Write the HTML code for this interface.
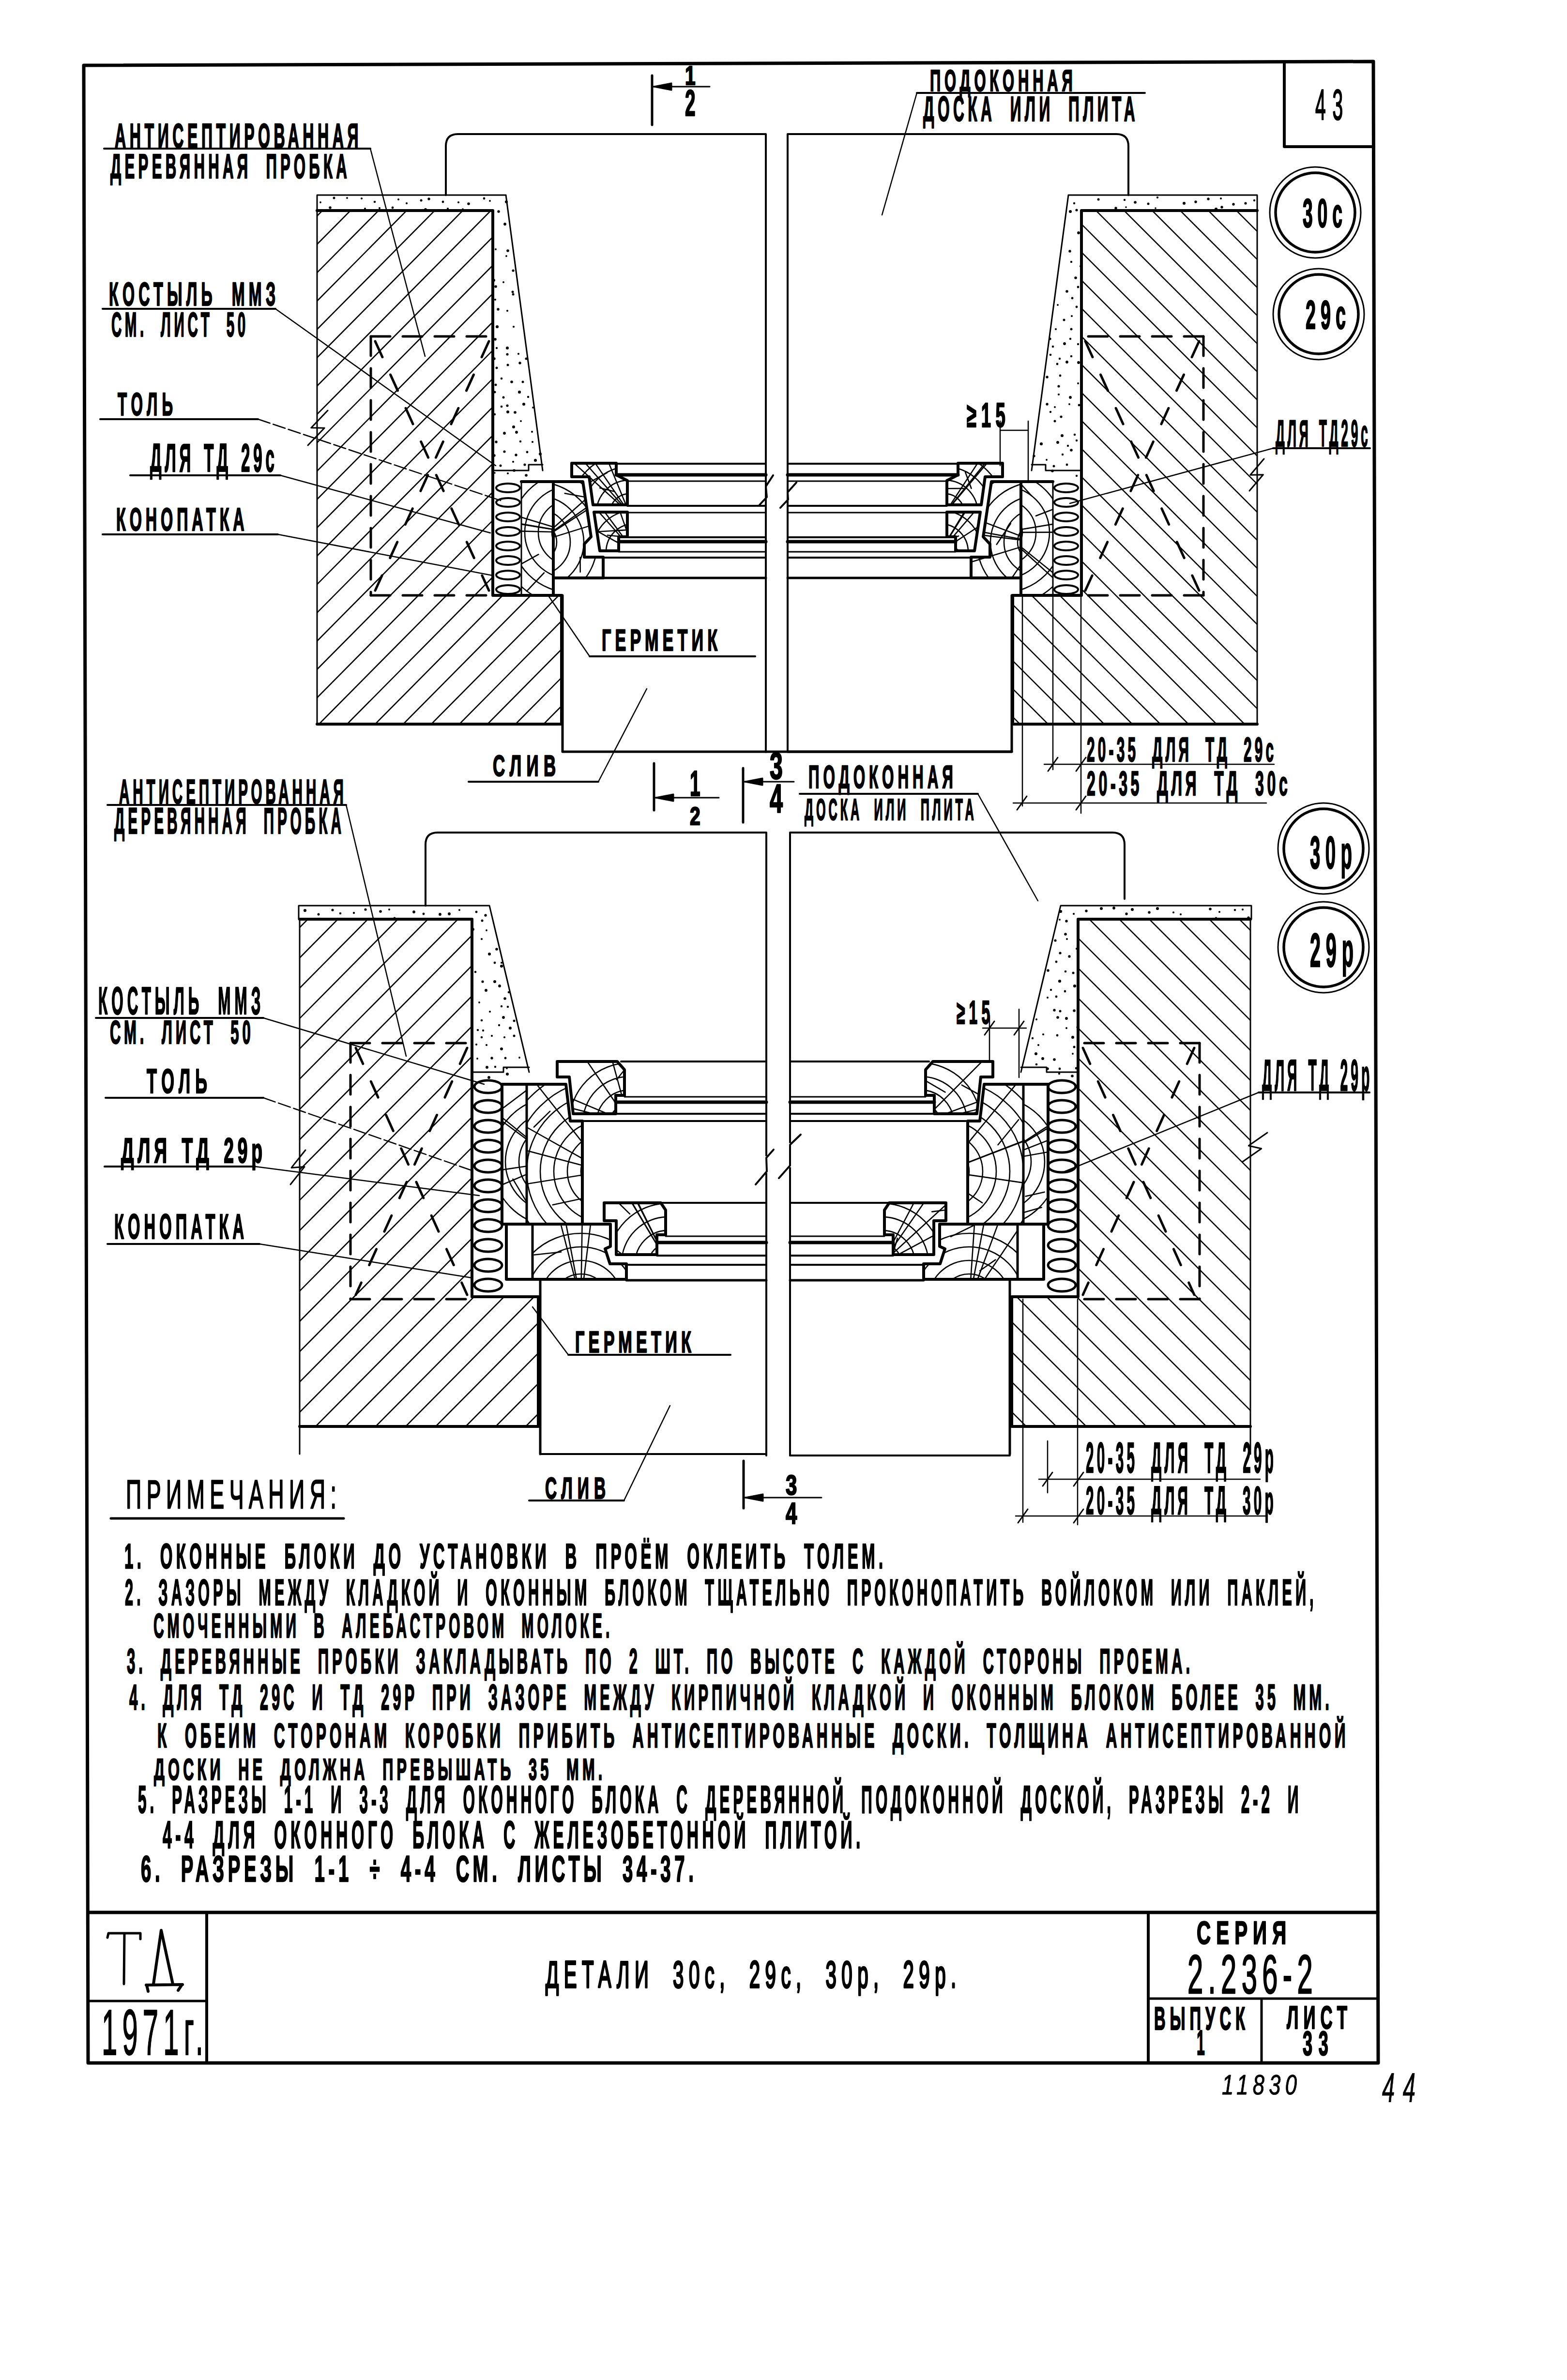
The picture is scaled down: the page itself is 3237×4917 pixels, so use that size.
<!DOCTYPE html>
<html><head><meta charset="utf-8"><style>
html,body{margin:0;padding:0;background:#fff;}
svg{display:block;}
text{fill:#000;}
</style></head><body>
<svg width="3237" height="4917" viewBox="0 0 3237 4917">
<g stroke="#000" fill="none" stroke-linecap="round" stroke-linejoin="round">
<polygon points="173.0,135.0 2837.0,127.0 2847.0,4262.0 182.0,4262.0" stroke-width="7" fill="none" />
<line x1="182.0" y1="3951.0" x2="2846.0" y2="3951.0" stroke-width="7"/>
<line x1="427.0" y1="3951.0" x2="427.0" y2="4262.0" stroke-width="6"/>
<line x1="182.0" y1="4134.0" x2="427.0" y2="4134.0" stroke-width="5"/>
<line x1="2372.0" y1="3951.0" x2="2372.0" y2="4262.0" stroke-width="6"/>
<line x1="2372.0" y1="4129.0" x2="2846.0" y2="4129.0" stroke-width="5"/>
<line x1="2606.0" y1="4132.0" x2="2606.0" y2="4262.0" stroke-width="5"/>
<polyline points="2653.0,130.0 2653.0,303.0 2838.0,303.0" stroke-width="6" fill="none" />
<circle cx="2717" cy="439" r="94" stroke-width="3"/>
<circle cx="2717" cy="439" r="82" stroke-width="5.5"/>
<circle cx="2724" cy="649" r="94" stroke-width="3"/>
<circle cx="2724" cy="649" r="82" stroke-width="5.5"/>
<circle cx="2734" cy="1753" r="94" stroke-width="3"/>
<circle cx="2734" cy="1753" r="82" stroke-width="5.5"/>
<circle cx="2734" cy="1957" r="94" stroke-width="3"/>
<circle cx="2734" cy="1957" r="82" stroke-width="5.5"/>
<circle cx="662" cy="418" r="1.9" fill="#000" stroke="none"/>
<circle cx="690" cy="409" r="2.5" fill="#000" stroke="none"/>
<circle cx="717" cy="409" r="1.9" fill="#000" stroke="none"/>
<circle cx="747" cy="410" r="2.1" fill="#000" stroke="none"/>
<circle cx="774" cy="417" r="2.3" fill="#000" stroke="none"/>
<circle cx="823" cy="412" r="2.0" fill="#000" stroke="none"/>
<circle cx="840" cy="420" r="2.1" fill="#000" stroke="none"/>
<circle cx="870" cy="414" r="2.5" fill="#000" stroke="none"/>
<circle cx="886" cy="411" r="2.7" fill="#000" stroke="none"/>
<circle cx="915" cy="417" r="2.4" fill="#000" stroke="none"/>
<circle cx="947" cy="418" r="2.1" fill="#000" stroke="none"/>
<circle cx="968" cy="421" r="2.8" fill="#000" stroke="none"/>
<circle cx="1000" cy="410" r="2.4" fill="#000" stroke="none"/>
<circle cx="1012" cy="415" r="1.9" fill="#000" stroke="none"/>
<circle cx="1046" cy="417" r="3.0" fill="#000" stroke="none"/>
<circle cx="682" cy="429" r="2.7" fill="#000" stroke="none"/>
<circle cx="754" cy="431" r="2.0" fill="#000" stroke="none"/>
<circle cx="784" cy="430" r="2.1" fill="#000" stroke="none"/>
<circle cx="811" cy="429" r="2.4" fill="#000" stroke="none"/>
<circle cx="879" cy="433" r="3.0" fill="#000" stroke="none"/>
<circle cx="925" cy="431" r="2.1" fill="#000" stroke="none"/>
<circle cx="956" cy="432" r="1.8" fill="#000" stroke="none"/>
<circle cx="1030" cy="437" r="2.7" fill="#000" stroke="none"/>
<circle cx="1043" cy="463" r="2.9" fill="#000" stroke="none"/>
<circle cx="1024" cy="515" r="1.9" fill="#000" stroke="none"/>
<circle cx="1049" cy="518" r="2.8" fill="#000" stroke="none"/>
<circle cx="1046" cy="529" r="1.9" fill="#000" stroke="none"/>
<circle cx="1060" cy="559" r="2.6" fill="#000" stroke="none"/>
<circle cx="1020" cy="579" r="3.0" fill="#000" stroke="none"/>
<circle cx="1040" cy="583" r="2.0" fill="#000" stroke="none"/>
<circle cx="1024" cy="592" r="2.8" fill="#000" stroke="none"/>
<circle cx="1059" cy="603" r="2.5" fill="#000" stroke="none"/>
<circle cx="1023" cy="619" r="2.1" fill="#000" stroke="none"/>
<circle cx="1060" cy="608" r="2.5" fill="#000" stroke="none"/>
<circle cx="1029" cy="639" r="2.7" fill="#000" stroke="none"/>
<circle cx="1048" cy="642" r="2.0" fill="#000" stroke="none"/>
<circle cx="1027" cy="675" r="3.1" fill="#000" stroke="none"/>
<circle cx="1061" cy="675" r="2.1" fill="#000" stroke="none"/>
<circle cx="1023" cy="701" r="2.8" fill="#000" stroke="none"/>
<circle cx="1026" cy="719" r="2.2" fill="#000" stroke="none"/>
<circle cx="1048" cy="719" r="3.0" fill="#000" stroke="none"/>
<circle cx="1021" cy="741" r="2.7" fill="#000" stroke="none"/>
<circle cx="1048" cy="732" r="2.6" fill="#000" stroke="none"/>
<circle cx="1071" cy="731" r="2.1" fill="#000" stroke="none"/>
<circle cx="1087" cy="741" r="2.6" fill="#000" stroke="none"/>
<circle cx="1026" cy="760" r="2.5" fill="#000" stroke="none"/>
<circle cx="1049" cy="754" r="2.5" fill="#000" stroke="none"/>
<circle cx="1074" cy="750" r="2.7" fill="#000" stroke="none"/>
<circle cx="1036" cy="782" r="2.3" fill="#000" stroke="none"/>
<circle cx="1024" cy="795" r="2.5" fill="#000" stroke="none"/>
<circle cx="1057" cy="789" r="2.8" fill="#000" stroke="none"/>
<circle cx="1080" cy="789" r="2.5" fill="#000" stroke="none"/>
<circle cx="1022" cy="810" r="2.5" fill="#000" stroke="none"/>
<circle cx="1040" cy="821" r="2.5" fill="#000" stroke="none"/>
<circle cx="1073" cy="810" r="3.1" fill="#000" stroke="none"/>
<circle cx="1091" cy="820" r="2.2" fill="#000" stroke="none"/>
<circle cx="1036" cy="840" r="2.3" fill="#000" stroke="none"/>
<circle cx="1048" cy="838" r="2.6" fill="#000" stroke="none"/>
<circle cx="1082" cy="835" r="3.0" fill="#000" stroke="none"/>
<circle cx="1101" cy="842" r="1.9" fill="#000" stroke="none"/>
<circle cx="1022" cy="856" r="2.2" fill="#000" stroke="none"/>
<circle cx="1049" cy="851" r="3.0" fill="#000" stroke="none"/>
<circle cx="1064" cy="852" r="2.8" fill="#000" stroke="none"/>
<circle cx="1061" cy="882" r="3.0" fill="#000" stroke="none"/>
<circle cx="1076" cy="870" r="1.9" fill="#000" stroke="none"/>
<circle cx="1042" cy="895" r="2.9" fill="#000" stroke="none"/>
<circle cx="1067" cy="893" r="2.9" fill="#000" stroke="none"/>
<circle cx="1099" cy="892" r="2.1" fill="#000" stroke="none"/>
<circle cx="1025" cy="913" r="2.7" fill="#000" stroke="none"/>
<circle cx="1075" cy="912" r="2.2" fill="#000" stroke="none"/>
<circle cx="1100" cy="913" r="2.1" fill="#000" stroke="none"/>
<circle cx="1021" cy="941" r="2.7" fill="#000" stroke="none"/>
<circle cx="1042" cy="933" r="2.6" fill="#000" stroke="none"/>
<circle cx="1066" cy="940" r="2.7" fill="#000" stroke="none"/>
<circle cx="1089" cy="934" r="2.4" fill="#000" stroke="none"/>
<circle cx="1116" cy="938" r="3.0" fill="#000" stroke="none"/>
<circle cx="1034" cy="962" r="2.5" fill="#000" stroke="none"/>
<circle cx="1060" cy="954" r="2.1" fill="#000" stroke="none"/>
<circle cx="1084" cy="960" r="2.6" fill="#000" stroke="none"/>
<circle cx="1106" cy="951" r="3.1" fill="#000" stroke="none"/>
<circle cx="1022" cy="977" r="1.8" fill="#000" stroke="none"/>
<circle cx="1049" cy="978" r="2.1" fill="#000" stroke="none"/>
<circle cx="1062" cy="972" r="2.8" fill="#000" stroke="none"/>
<circle cx="1087" cy="982" r="2.8" fill="#000" stroke="none"/>
<polyline points="655.0,435.0 655.0,403.0 1045.0,403.0 1121.0,972.0" stroke-width="3" fill="none" />
<clipPath id="c1"><polygon points="655.0,435.0 1018.0,435.0 1018.0,1230.0 1160.0,1230.0 1160.0,1496.0 655.0,1496.0"/></clipPath>
<g clip-path="url(#c1)">
<line x1="671.0" y1="430.0" x2="-395.0" y2="1506.0" stroke-width="2.6"/>
<line x1="729.0" y1="430.0" x2="-337.0" y2="1506.0" stroke-width="2.6"/>
<line x1="787.0" y1="430.0" x2="-279.0" y2="1506.0" stroke-width="2.6"/>
<line x1="845.0" y1="430.0" x2="-221.0" y2="1506.0" stroke-width="2.6"/>
<line x1="903.0" y1="430.0" x2="-163.0" y2="1506.0" stroke-width="2.6"/>
<line x1="961.0" y1="430.0" x2="-105.0" y2="1506.0" stroke-width="2.6"/>
<line x1="1019.0" y1="430.0" x2="-47.0" y2="1506.0" stroke-width="2.6"/>
<line x1="1077.0" y1="430.0" x2="11.0" y2="1506.0" stroke-width="2.6"/>
<line x1="1135.0" y1="430.0" x2="69.0" y2="1506.0" stroke-width="2.6"/>
<line x1="1193.0" y1="430.0" x2="127.0" y2="1506.0" stroke-width="2.6"/>
<line x1="1251.0" y1="430.0" x2="185.0" y2="1506.0" stroke-width="2.6"/>
<line x1="1309.0" y1="430.0" x2="243.0" y2="1506.0" stroke-width="2.6"/>
<line x1="1367.0" y1="430.0" x2="301.0" y2="1506.0" stroke-width="2.6"/>
<line x1="1425.0" y1="430.0" x2="359.0" y2="1506.0" stroke-width="2.6"/>
<line x1="1483.0" y1="430.0" x2="417.0" y2="1506.0" stroke-width="2.6"/>
<line x1="1541.0" y1="430.0" x2="475.0" y2="1506.0" stroke-width="2.6"/>
<line x1="1599.0" y1="430.0" x2="533.0" y2="1506.0" stroke-width="2.6"/>
<line x1="1657.0" y1="430.0" x2="591.0" y2="1506.0" stroke-width="2.6"/>
<line x1="1715.0" y1="430.0" x2="649.0" y2="1506.0" stroke-width="2.6"/>
<line x1="1773.0" y1="430.0" x2="707.0" y2="1506.0" stroke-width="2.6"/>
<line x1="1831.0" y1="430.0" x2="765.0" y2="1506.0" stroke-width="2.6"/>
<line x1="1889.0" y1="430.0" x2="823.0" y2="1506.0" stroke-width="2.6"/>
<line x1="1947.0" y1="430.0" x2="881.0" y2="1506.0" stroke-width="2.6"/>
<line x1="2005.0" y1="430.0" x2="939.0" y2="1506.0" stroke-width="2.6"/>
<line x1="2063.0" y1="430.0" x2="997.0" y2="1506.0" stroke-width="2.6"/>
<line x1="2121.0" y1="430.0" x2="1055.0" y2="1506.0" stroke-width="2.6"/>
<line x1="2179.0" y1="430.0" x2="1113.0" y2="1506.0" stroke-width="2.6"/>
</g>
<polyline points="655.0,435.0 655.0,1496.0" stroke-width="3" fill="none" />
<polyline points="655.0,435.0 1018.0,435.0 1018.0,1230.0 1160.0,1230.0 1160.0,1496.0 655.0,1496.0" stroke-width="6" fill="none" />
<polyline points="1018.0,972.0 1092.0,972.0 1092.0,960.0 1121.0,960.0" stroke-width="3" fill="none" />
<line x1="766.0" y1="695.0" x2="1016.0" y2="695.0" stroke-width="5" stroke-dasharray="40,26"/>
<line x1="766.0" y1="695.0" x2="766.0" y2="1230.0" stroke-width="5" stroke-dasharray="40,26"/>
<line x1="766.0" y1="1230.0" x2="1016.0" y2="1230.0" stroke-width="5" stroke-dasharray="40,26"/>
<line x1="775.0" y1="705.0" x2="1010.0" y2="1220.0" stroke-width="5" stroke-dasharray="36,40"/>
<line x1="1010.0" y1="705.0" x2="775.0" y2="1220.0" stroke-width="5" stroke-dasharray="36,40"/>
<path d="M 921 403 L 921 302 Q 921 277 946 277 L 1582 277 L 1582 1553" stroke-width="4" fill="none" />
<polyline points="1162.0,1230.0 1162.0,1553.0 1582.0,1553.0" stroke-width="5" fill="none" />
<ellipse cx="1049.5" cy="1008.0" rx="24.5" ry="9" stroke-width="4"/>
<ellipse cx="1049.5" cy="1038.0" rx="24.5" ry="9" stroke-width="4"/>
<ellipse cx="1049.5" cy="1068.0" rx="24.5" ry="9" stroke-width="4"/>
<ellipse cx="1049.5" cy="1098.0" rx="24.5" ry="9" stroke-width="4"/>
<ellipse cx="1049.5" cy="1128.0" rx="24.5" ry="9" stroke-width="4"/>
<ellipse cx="1049.5" cy="1158.0" rx="24.5" ry="9" stroke-width="4"/>
<ellipse cx="1049.5" cy="1188.0" rx="24.5" ry="9" stroke-width="4"/>
<ellipse cx="1049.5" cy="1218.0" rx="24.5" ry="9" stroke-width="4"/>
<clipPath id="c2"><polygon points="1077.0,995.0 1143.0,995.0 1143.0,1230.0 1077.0,1230.0"/></clipPath>
<g clip-path="url(#c2)">
<circle cx="1180.0" cy="1100.0" r="40.0" stroke-width="2.6"/>
<circle cx="1180.0" cy="1100.0" r="68.0" stroke-width="2.6"/>
<circle cx="1180.0" cy="1100.0" r="96.0" stroke-width="2.6"/>
<circle cx="1180.0" cy="1100.0" r="124.0" stroke-width="2.6"/>
<circle cx="1180.0" cy="1100.0" r="152.0" stroke-width="2.6"/>
<line x1="1180.0" y1="1100.0" x2="785.2" y2="1035.9" stroke-width="2.6"/>
<line x1="1180.0" y1="1100.0" x2="780.1" y2="1089.8" stroke-width="2.6"/>
<line x1="1180.0" y1="1100.0" x2="797.4" y2="983.3" stroke-width="2.6"/>
<line x1="1180.0" y1="1100.0" x2="785.7" y2="1032.7" stroke-width="2.6"/>
<line x1="1112.4" y1="1145.4" x2="1067.6" y2="1170.2" stroke-width="2.6"/>
<line x1="1123.9" y1="1183.5" x2="1088.0" y2="1221.3" stroke-width="2.6"/>
</g>
<clipPath id="c3"><polygon points="1143.0,995.0 1204.0,995.0 1221.0,1109.0 1207.0,1124.0 1207.0,1151.0 1246.0,1151.0 1246.0,1194.0 1143.0,1194.0"/></clipPath>
<g clip-path="url(#c3)">
<circle cx="1110.0" cy="1120.0" r="40.0" stroke-width="2.6"/>
<circle cx="1110.0" cy="1120.0" r="68.0" stroke-width="2.6"/>
<circle cx="1110.0" cy="1120.0" r="96.0" stroke-width="2.6"/>
<circle cx="1110.0" cy="1120.0" r="124.0" stroke-width="2.6"/>
<circle cx="1110.0" cy="1120.0" r="152.0" stroke-width="2.6"/>
<line x1="1110.0" y1="1120.0" x2="1445.5" y2="902.2" stroke-width="2.6"/>
<line x1="1110.0" y1="1120.0" x2="1437.4" y2="890.2" stroke-width="2.6"/>
<line x1="1110.0" y1="1120.0" x2="1409.2" y2="854.5" stroke-width="2.6"/>
<line x1="1110.0" y1="1120.0" x2="1492.0" y2="1001.3" stroke-width="2.6"/>
<line x1="1166.7" y1="1019.2" x2="1215.5" y2="1028.3" stroke-width="2.6"/>
<line x1="1198.5" y1="1151.6" x2="1198.7" y2="1181.8" stroke-width="2.6"/>
</g>
<polyline points="1077.0,995.0 1204.0,995.0 1221.0,1109.0 1207.0,1124.0 1207.0,1151.0 1246.0,1151.0 1246.0,1194.0 1143.0,1194.0" stroke-width="6" fill="none" />
<polyline points="1143.0,995.0 1143.0,1230.0" stroke-width="6" fill="none" />
<polyline points="1077.0,995.0 1077.0,1230.0" stroke-width="3" fill="none" />
<clipPath id="c4"><polygon points="1181.0,957.0 1273.0,957.0 1273.0,981.0 1296.0,993.0 1296.0,1043.0 1225.0,1043.0 1217.0,985.0 1181.0,985.0"/></clipPath>
<g clip-path="url(#c4)">
<circle cx="1300.0" cy="1060.0" r="40.0" stroke-width="2.6"/>
<circle cx="1300.0" cy="1060.0" r="68.0" stroke-width="2.6"/>
<circle cx="1300.0" cy="1060.0" r="96.0" stroke-width="2.6"/>
<circle cx="1300.0" cy="1060.0" r="124.0" stroke-width="2.6"/>
<line x1="1300.0" y1="1060.0" x2="1148.4" y2="689.9" stroke-width="2.6"/>
<line x1="1300.0" y1="1060.0" x2="1003.2" y2="791.9" stroke-width="2.6"/>
<line x1="1300.0" y1="1060.0" x2="1035.4" y2="760.0" stroke-width="2.6"/>
<line x1="1300.0" y1="1060.0" x2="1074.3" y2="729.7" stroke-width="2.6"/>
<line x1="1254.1" y1="976.6" x2="1194.1" y2="1009.4" stroke-width="2.6"/>
<line x1="1239.1" y1="1008.1" x2="1269.4" y2="1015.4" stroke-width="2.6"/>
</g>
<polygon points="1181.0,957.0 1273.0,957.0 1273.0,981.0 1296.0,993.0 1296.0,1043.0 1225.0,1043.0 1217.0,985.0 1181.0,985.0" stroke-width="6" fill="none" />
<clipPath id="c5"><polygon points="1227.0,1058.0 1296.0,1058.0 1296.0,1109.0 1278.0,1109.0 1278.0,1138.0 1239.0,1138.0"/></clipPath>
<g clip-path="url(#c5)">
<circle cx="1310.0" cy="1140.0" r="30.0" stroke-width="2.6"/>
<circle cx="1310.0" cy="1140.0" r="58.0" stroke-width="2.6"/>
<circle cx="1310.0" cy="1140.0" r="86.0" stroke-width="2.6"/>
<circle cx="1310.0" cy="1140.0" r="114.0" stroke-width="2.6"/>
<line x1="1310.0" y1="1140.0" x2="1044.6" y2="840.7" stroke-width="2.6"/>
<line x1="1310.0" y1="1140.0" x2="1071.8" y2="818.7" stroke-width="2.6"/>
<line x1="1310.0" y1="1140.0" x2="1176.9" y2="762.8" stroke-width="2.6"/>
<line x1="1310.0" y1="1140.0" x2="961.0" y2="944.6" stroke-width="2.6"/>
<line x1="1295.1" y1="1094.9" x2="1229.3" y2="1098.7" stroke-width="2.6"/>
<line x1="1254.9" y1="1105.7" x2="1298.2" y2="1110.3" stroke-width="2.6"/>
</g>
<polygon points="1227.0,1058.0 1296.0,1058.0 1296.0,1109.0 1278.0,1109.0 1278.0,1138.0 1239.0,1138.0" stroke-width="6" fill="none" />
<line x1="1273.0" y1="958.0" x2="1582.0" y2="958.0" stroke-width="4"/>
<line x1="1273.0" y1="981.0" x2="1582.0" y2="981.0" stroke-width="7"/>
<line x1="1296.0" y1="994.0" x2="1582.0" y2="994.0" stroke-width="3"/>
<line x1="1296.0" y1="1045.0" x2="1582.0" y2="1045.0" stroke-width="4"/>
<line x1="1296.0" y1="1059.0" x2="1582.0" y2="1059.0" stroke-width="3"/>
<line x1="1296.0" y1="1110.0" x2="1582.0" y2="1110.0" stroke-width="4"/>
<line x1="1278.0" y1="1119.0" x2="1582.0" y2="1119.0" stroke-width="7"/>
<line x1="1278.0" y1="1140.0" x2="1582.0" y2="1140.0" stroke-width="3"/>
<line x1="1246.0" y1="1152.0" x2="1582.0" y2="1152.0" stroke-width="4"/>
<line x1="1246.0" y1="1194.0" x2="1582.0" y2="1194.0" stroke-width="5"/>
<circle cx="2219" cy="420" r="2.2" fill="#000" stroke="none"/>
<circle cx="2269" cy="412" r="2.5" fill="#000" stroke="none"/>
<circle cx="2323" cy="413" r="2.2" fill="#000" stroke="none"/>
<circle cx="2345" cy="418" r="2.8" fill="#000" stroke="none"/>
<circle cx="2372" cy="421" r="2.5" fill="#000" stroke="none"/>
<circle cx="2391" cy="408" r="2.1" fill="#000" stroke="none"/>
<circle cx="2446" cy="420" r="3.0" fill="#000" stroke="none"/>
<circle cx="2470" cy="417" r="2.7" fill="#000" stroke="none"/>
<circle cx="2496" cy="411" r="2.7" fill="#000" stroke="none"/>
<circle cx="2522" cy="410" r="2.1" fill="#000" stroke="none"/>
<circle cx="2548" cy="422" r="2.7" fill="#000" stroke="none"/>
<circle cx="2573" cy="420" r="2.6" fill="#000" stroke="none"/>
<circle cx="2591" cy="414" r="2.2" fill="#000" stroke="none"/>
<circle cx="2211" cy="437" r="3.0" fill="#000" stroke="none"/>
<circle cx="2224" cy="434" r="2.6" fill="#000" stroke="none"/>
<circle cx="2305" cy="430" r="2.7" fill="#000" stroke="none"/>
<circle cx="2326" cy="428" r="1.8" fill="#000" stroke="none"/>
<circle cx="2387" cy="430" r="1.8" fill="#000" stroke="none"/>
<circle cx="2512" cy="432" r="3.1" fill="#000" stroke="none"/>
<circle cx="2524" cy="428" r="2.7" fill="#000" stroke="none"/>
<circle cx="2228" cy="481" r="2.9" fill="#000" stroke="none"/>
<circle cx="2210" cy="519" r="2.7" fill="#000" stroke="none"/>
<circle cx="2213" cy="541" r="2.2" fill="#000" stroke="none"/>
<circle cx="2232" cy="550" r="2.1" fill="#000" stroke="none"/>
<circle cx="2222" cy="574" r="2.8" fill="#000" stroke="none"/>
<circle cx="2204" cy="602" r="2.8" fill="#000" stroke="none"/>
<circle cx="2227" cy="593" r="2.4" fill="#000" stroke="none"/>
<circle cx="2215" cy="616" r="2.4" fill="#000" stroke="none"/>
<circle cx="2185" cy="630" r="1.9" fill="#000" stroke="none"/>
<circle cx="2224" cy="634" r="2.4" fill="#000" stroke="none"/>
<circle cx="2198" cy="661" r="2.5" fill="#000" stroke="none"/>
<circle cx="2214" cy="653" r="2.0" fill="#000" stroke="none"/>
<circle cx="2181" cy="680" r="2.0" fill="#000" stroke="none"/>
<circle cx="2213" cy="680" r="2.5" fill="#000" stroke="none"/>
<circle cx="2169" cy="700" r="2.6" fill="#000" stroke="none"/>
<circle cx="2211" cy="700" r="2.2" fill="#000" stroke="none"/>
<circle cx="2175" cy="716" r="2.3" fill="#000" stroke="none"/>
<circle cx="2199" cy="710" r="2.9" fill="#000" stroke="none"/>
<circle cx="2227" cy="711" r="2.2" fill="#000" stroke="none"/>
<circle cx="2170" cy="733" r="2.3" fill="#000" stroke="none"/>
<circle cx="2189" cy="741" r="2.2" fill="#000" stroke="none"/>
<circle cx="2213" cy="736" r="2.3" fill="#000" stroke="none"/>
<circle cx="2184" cy="752" r="2.4" fill="#000" stroke="none"/>
<circle cx="2204" cy="748" r="2.9" fill="#000" stroke="none"/>
<circle cx="2228" cy="749" r="2.9" fill="#000" stroke="none"/>
<circle cx="2163" cy="779" r="2.7" fill="#000" stroke="none"/>
<circle cx="2190" cy="776" r="2.4" fill="#000" stroke="none"/>
<circle cx="2187" cy="798" r="2.6" fill="#000" stroke="none"/>
<circle cx="2227" cy="792" r="2.0" fill="#000" stroke="none"/>
<circle cx="2187" cy="815" r="2.1" fill="#000" stroke="none"/>
<circle cx="2211" cy="821" r="2.9" fill="#000" stroke="none"/>
<circle cx="2163" cy="835" r="2.7" fill="#000" stroke="none"/>
<circle cx="2179" cy="841" r="1.9" fill="#000" stroke="none"/>
<circle cx="2209" cy="835" r="1.9" fill="#000" stroke="none"/>
<circle cx="2229" cy="837" r="2.4" fill="#000" stroke="none"/>
<circle cx="2170" cy="851" r="2.2" fill="#000" stroke="none"/>
<circle cx="2192" cy="861" r="2.6" fill="#000" stroke="none"/>
<circle cx="2179" cy="870" r="2.5" fill="#000" stroke="none"/>
<circle cx="2194" cy="900" r="3.0" fill="#000" stroke="none"/>
<circle cx="2220" cy="898" r="2.3" fill="#000" stroke="none"/>
<circle cx="2151" cy="917" r="3.1" fill="#000" stroke="none"/>
<circle cx="2185" cy="914" r="2.9" fill="#000" stroke="none"/>
<circle cx="2206" cy="921" r="2.2" fill="#000" stroke="none"/>
<circle cx="2224" cy="910" r="2.2" fill="#000" stroke="none"/>
<circle cx="2136" cy="942" r="2.6" fill="#000" stroke="none"/>
<circle cx="2195" cy="939" r="2.2" fill="#000" stroke="none"/>
<circle cx="2213" cy="930" r="2.8" fill="#000" stroke="none"/>
<circle cx="2162" cy="950" r="1.9" fill="#000" stroke="none"/>
<circle cx="2177" cy="963" r="2.5" fill="#000" stroke="none"/>
<circle cx="2204" cy="960" r="2.4" fill="#000" stroke="none"/>
<circle cx="2174" cy="973" r="2.8" fill="#000" stroke="none"/>
<circle cx="2224" cy="983" r="2.2" fill="#000" stroke="none"/>
<polyline points="2597.0,435.0 2597.0,403.0 2207.0,403.0 2131.0,972.0" stroke-width="3" fill="none" />
<clipPath id="c6"><polygon points="2597.0,435.0 2234.0,435.0 2234.0,1230.0 2092.0,1230.0 2092.0,1496.0 2597.0,1496.0"/></clipPath>
<g clip-path="url(#c6)">
<line x1="1036.0" y1="425.0" x2="2117.0" y2="1506.0" stroke-width="2.6"/>
<line x1="1094.0" y1="425.0" x2="2175.0" y2="1506.0" stroke-width="2.6"/>
<line x1="1152.0" y1="425.0" x2="2233.0" y2="1506.0" stroke-width="2.6"/>
<line x1="1210.0" y1="425.0" x2="2291.0" y2="1506.0" stroke-width="2.6"/>
<line x1="1268.0" y1="425.0" x2="2349.0" y2="1506.0" stroke-width="2.6"/>
<line x1="1326.0" y1="425.0" x2="2407.0" y2="1506.0" stroke-width="2.6"/>
<line x1="1384.0" y1="425.0" x2="2465.0" y2="1506.0" stroke-width="2.6"/>
<line x1="1442.0" y1="425.0" x2="2523.0" y2="1506.0" stroke-width="2.6"/>
<line x1="1500.0" y1="425.0" x2="2581.0" y2="1506.0" stroke-width="2.6"/>
<line x1="1558.0" y1="425.0" x2="2639.0" y2="1506.0" stroke-width="2.6"/>
<line x1="1616.0" y1="425.0" x2="2697.0" y2="1506.0" stroke-width="2.6"/>
<line x1="1674.0" y1="425.0" x2="2755.0" y2="1506.0" stroke-width="2.6"/>
<line x1="1732.0" y1="425.0" x2="2813.0" y2="1506.0" stroke-width="2.6"/>
<line x1="1790.0" y1="425.0" x2="2871.0" y2="1506.0" stroke-width="2.6"/>
<line x1="1848.0" y1="425.0" x2="2929.0" y2="1506.0" stroke-width="2.6"/>
<line x1="1906.0" y1="425.0" x2="2987.0" y2="1506.0" stroke-width="2.6"/>
<line x1="1964.0" y1="425.0" x2="3045.0" y2="1506.0" stroke-width="2.6"/>
<line x1="2022.0" y1="425.0" x2="3103.0" y2="1506.0" stroke-width="2.6"/>
<line x1="2080.0" y1="425.0" x2="3161.0" y2="1506.0" stroke-width="2.6"/>
<line x1="2138.0" y1="425.0" x2="3219.0" y2="1506.0" stroke-width="2.6"/>
<line x1="2196.0" y1="425.0" x2="3277.0" y2="1506.0" stroke-width="2.6"/>
<line x1="2254.0" y1="425.0" x2="3335.0" y2="1506.0" stroke-width="2.6"/>
<line x1="2312.0" y1="425.0" x2="3393.0" y2="1506.0" stroke-width="2.6"/>
<line x1="2370.0" y1="425.0" x2="3451.0" y2="1506.0" stroke-width="2.6"/>
<line x1="2428.0" y1="425.0" x2="3509.0" y2="1506.0" stroke-width="2.6"/>
<line x1="2486.0" y1="425.0" x2="3567.0" y2="1506.0" stroke-width="2.6"/>
<line x1="2544.0" y1="425.0" x2="3625.0" y2="1506.0" stroke-width="2.6"/>
</g>
<polyline points="2597.0,435.0 2597.0,1496.0" stroke-width="3" fill="none" />
<polyline points="2597.0,435.0 2234.0,435.0 2234.0,1230.0 2092.0,1230.0 2092.0,1496.0 2597.0,1496.0" stroke-width="6" fill="none" />
<polyline points="2234.0,972.0 2160.0,972.0 2160.0,960.0 2131.0,960.0" stroke-width="3" fill="none" />
<line x1="2486.0" y1="695.0" x2="2236.0" y2="695.0" stroke-width="5" stroke-dasharray="40,26"/>
<line x1="2486.0" y1="695.0" x2="2486.0" y2="1230.0" stroke-width="5" stroke-dasharray="40,26"/>
<line x1="2486.0" y1="1230.0" x2="2236.0" y2="1230.0" stroke-width="5" stroke-dasharray="40,26"/>
<line x1="2477.0" y1="705.0" x2="2242.0" y2="1220.0" stroke-width="5" stroke-dasharray="36,40"/>
<line x1="2242.0" y1="705.0" x2="2477.0" y2="1220.0" stroke-width="5" stroke-dasharray="36,40"/>
<path d="M 2331 403 L 2331 302 Q 2331 277 2306 277 L 1627 277 L 1627 1553" stroke-width="4" fill="none" />
<polyline points="2090.0,1230.0 2090.0,1553.0 1582.0,1553.0" stroke-width="5" fill="none" />
<polyline points="1627.0,1553.0 2090.0,1553.0" stroke-width="5" fill="none" />
<ellipse cx="2202.5" cy="1008.0" rx="24.5" ry="9" stroke-width="4"/>
<ellipse cx="2202.5" cy="1038.0" rx="24.5" ry="9" stroke-width="4"/>
<ellipse cx="2202.5" cy="1068.0" rx="24.5" ry="9" stroke-width="4"/>
<ellipse cx="2202.5" cy="1098.0" rx="24.5" ry="9" stroke-width="4"/>
<ellipse cx="2202.5" cy="1128.0" rx="24.5" ry="9" stroke-width="4"/>
<ellipse cx="2202.5" cy="1158.0" rx="24.5" ry="9" stroke-width="4"/>
<ellipse cx="2202.5" cy="1188.0" rx="24.5" ry="9" stroke-width="4"/>
<ellipse cx="2202.5" cy="1218.0" rx="24.5" ry="9" stroke-width="4"/>
<clipPath id="c7"><polygon points="2175.0,995.0 2109.0,995.0 2109.0,1230.0 2175.0,1230.0"/></clipPath>
<g clip-path="url(#c7)">
<circle cx="2072.0" cy="1100.0" r="40.0" stroke-width="2.6"/>
<circle cx="2072.0" cy="1100.0" r="68.0" stroke-width="2.6"/>
<circle cx="2072.0" cy="1100.0" r="96.0" stroke-width="2.6"/>
<circle cx="2072.0" cy="1100.0" r="124.0" stroke-width="2.6"/>
<circle cx="2072.0" cy="1100.0" r="152.0" stroke-width="2.6"/>
<line x1="2072.0" y1="1100.0" x2="2383.2" y2="1351.2" stroke-width="2.6"/>
<line x1="2072.0" y1="1100.0" x2="2472.0" y2="1098.4" stroke-width="2.6"/>
<line x1="2072.0" y1="1100.0" x2="2466.6" y2="1034.2" stroke-width="2.6"/>
<line x1="2072.0" y1="1100.0" x2="2368.0" y2="1369.0" stroke-width="2.6"/>
<line x1="2174.6" y1="1052.5" x2="2140.0" y2="1065.8" stroke-width="2.6"/>
<line x1="2096.6" y1="986.5" x2="2130.5" y2="1023.8" stroke-width="2.6"/>
</g>
<clipPath id="c8"><polygon points="2109.0,995.0 2048.0,995.0 2031.0,1109.0 2045.0,1124.0 2045.0,1151.0 2006.0,1151.0 2006.0,1194.0 2109.0,1194.0"/></clipPath>
<g clip-path="url(#c8)">
<circle cx="2142.0" cy="1120.0" r="40.0" stroke-width="2.6"/>
<circle cx="2142.0" cy="1120.0" r="68.0" stroke-width="2.6"/>
<circle cx="2142.0" cy="1120.0" r="96.0" stroke-width="2.6"/>
<circle cx="2142.0" cy="1120.0" r="124.0" stroke-width="2.6"/>
<circle cx="2142.0" cy="1120.0" r="152.0" stroke-width="2.6"/>
<line x1="2142.0" y1="1120.0" x2="1748.7" y2="1047.3" stroke-width="2.6"/>
<line x1="2142.0" y1="1120.0" x2="1767.8" y2="978.7" stroke-width="2.6"/>
<line x1="2142.0" y1="1120.0" x2="1745.3" y2="1068.9" stroke-width="2.6"/>
<line x1="2142.0" y1="1120.0" x2="1759.2" y2="1236.0" stroke-width="2.6"/>
<line x1="2087.7" y1="1081.7" x2="2058.8" y2="1124.8" stroke-width="2.6"/>
<line x1="2123.7" y1="1144.7" x2="2090.7" y2="1193.2" stroke-width="2.6"/>
</g>
<polyline points="2175.0,995.0 2048.0,995.0 2031.0,1109.0 2045.0,1124.0 2045.0,1151.0 2006.0,1151.0 2006.0,1194.0 2109.0,1194.0" stroke-width="6" fill="none" />
<polyline points="2109.0,995.0 2109.0,1230.0" stroke-width="6" fill="none" />
<polyline points="2175.0,995.0 2175.0,1230.0" stroke-width="3" fill="none" />
<clipPath id="c9"><polygon points="2071.0,957.0 1979.0,957.0 1979.0,981.0 1956.0,993.0 1956.0,1043.0 2027.0,1043.0 2035.0,985.0 2071.0,985.0"/></clipPath>
<g clip-path="url(#c9)">
<circle cx="1952.0" cy="1060.0" r="40.0" stroke-width="2.6"/>
<circle cx="1952.0" cy="1060.0" r="68.0" stroke-width="2.6"/>
<circle cx="1952.0" cy="1060.0" r="96.0" stroke-width="2.6"/>
<circle cx="1952.0" cy="1060.0" r="124.0" stroke-width="2.6"/>
<line x1="1952.0" y1="1060.0" x2="2202.5" y2="748.2" stroke-width="2.6"/>
<line x1="1952.0" y1="1060.0" x2="2171.1" y2="725.3" stroke-width="2.6"/>
<line x1="1952.0" y1="1060.0" x2="2209.9" y2="754.2" stroke-width="2.6"/>
<line x1="1952.0" y1="1060.0" x2="2343.6" y2="978.4" stroke-width="2.6"/>
<line x1="1994.1" y1="975.5" x2="2006.5" y2="1009.0" stroke-width="2.6"/>
<line x1="1990.1" y1="1009.1" x2="1923.1" y2="1009.4" stroke-width="2.6"/>
</g>
<polygon points="2071.0,957.0 1979.0,957.0 1979.0,981.0 1956.0,993.0 1956.0,1043.0 2027.0,1043.0 2035.0,985.0 2071.0,985.0" stroke-width="6" fill="none" />
<clipPath id="c10"><polygon points="2025.0,1058.0 1956.0,1058.0 1956.0,1109.0 1974.0,1109.0 1974.0,1138.0 2013.0,1138.0"/></clipPath>
<g clip-path="url(#c10)">
<circle cx="1942.0" cy="1140.0" r="30.0" stroke-width="2.6"/>
<circle cx="1942.0" cy="1140.0" r="58.0" stroke-width="2.6"/>
<circle cx="1942.0" cy="1140.0" r="86.0" stroke-width="2.6"/>
<circle cx="1942.0" cy="1140.0" r="114.0" stroke-width="2.6"/>
<line x1="1942.0" y1="1140.0" x2="2155.4" y2="801.7" stroke-width="2.6"/>
<line x1="1942.0" y1="1140.0" x2="2276.5" y2="920.6" stroke-width="2.6"/>
<line x1="1942.0" y1="1140.0" x2="2202.6" y2="836.5" stroke-width="2.6"/>
<line x1="1942.0" y1="1140.0" x2="2149.7" y2="798.2" stroke-width="2.6"/>
<line x1="1939.1" y1="1107.5" x2="1988.9" y2="1143.4" stroke-width="2.6"/>
<line x1="1980.0" y1="1107.4" x2="1938.8" y2="1119.6" stroke-width="2.6"/>
</g>
<polygon points="2025.0,1058.0 1956.0,1058.0 1956.0,1109.0 1974.0,1109.0 1974.0,1138.0 2013.0,1138.0" stroke-width="6" fill="none" />
<line x1="1979.0" y1="958.0" x2="1627.0" y2="958.0" stroke-width="4"/>
<line x1="1979.0" y1="981.0" x2="1627.0" y2="981.0" stroke-width="7"/>
<line x1="1956.0" y1="994.0" x2="1627.0" y2="994.0" stroke-width="3"/>
<line x1="1956.0" y1="1045.0" x2="1627.0" y2="1045.0" stroke-width="4"/>
<line x1="1956.0" y1="1059.0" x2="1627.0" y2="1059.0" stroke-width="3"/>
<line x1="1956.0" y1="1110.0" x2="1627.0" y2="1110.0" stroke-width="4"/>
<line x1="1974.0" y1="1119.0" x2="1627.0" y2="1119.0" stroke-width="7"/>
<line x1="1974.0" y1="1140.0" x2="1627.0" y2="1140.0" stroke-width="3"/>
<line x1="2006.0" y1="1152.0" x2="1627.0" y2="1152.0" stroke-width="4"/>
<line x1="2006.0" y1="1194.0" x2="1627.0" y2="1194.0" stroke-width="5"/>
<polyline points="636.0,920.0 670.2,884.2 642.8,883.8 677.0,848.0" stroke-width="3" fill="none" />
<polyline points="1597.0,982.0 1582.0,1005.0 1584.0,1027.0 1569.0,1043.0" stroke-width="4" fill="none" />
<polyline points="1645.0,997.0 1627.0,1017.0 1628.0,1032.0 1612.0,1049.0" stroke-width="4" fill="none" />
<polyline points="2581.0,1014.0 2609.3,980.7 2582.7,981.3 2611.0,948.0" stroke-width="3" fill="none" />
<circle cx="630" cy="1881" r="3.1" fill="#000" stroke="none"/>
<circle cx="658" cy="1889" r="2.5" fill="#000" stroke="none"/>
<circle cx="687" cy="1880" r="2.6" fill="#000" stroke="none"/>
<circle cx="703" cy="1887" r="2.3" fill="#000" stroke="none"/>
<circle cx="731" cy="1886" r="2.2" fill="#000" stroke="none"/>
<circle cx="755" cy="1879" r="2.6" fill="#000" stroke="none"/>
<circle cx="786" cy="1883" r="2.8" fill="#000" stroke="none"/>
<circle cx="804" cy="1879" r="2.0" fill="#000" stroke="none"/>
<circle cx="855" cy="1884" r="2.9" fill="#000" stroke="none"/>
<circle cx="875" cy="1888" r="2.4" fill="#000" stroke="none"/>
<circle cx="909" cy="1889" r="2.9" fill="#000" stroke="none"/>
<circle cx="928" cy="1888" r="2.9" fill="#000" stroke="none"/>
<circle cx="949" cy="1880" r="2.0" fill="#000" stroke="none"/>
<circle cx="984" cy="1884" r="2.4" fill="#000" stroke="none"/>
<circle cx="1003" cy="1891" r="2.7" fill="#000" stroke="none"/>
<circle cx="815" cy="1897" r="2.4" fill="#000" stroke="none"/>
<circle cx="996" cy="1902" r="2.5" fill="#000" stroke="none"/>
<circle cx="977" cy="1920" r="2.9" fill="#000" stroke="none"/>
<circle cx="1005" cy="1922" r="1.9" fill="#000" stroke="none"/>
<circle cx="995" cy="1940" r="2.1" fill="#000" stroke="none"/>
<circle cx="1011" cy="1971" r="3.0" fill="#000" stroke="none"/>
<circle cx="1026" cy="1961" r="2.8" fill="#000" stroke="none"/>
<circle cx="1022" cy="1989" r="2.4" fill="#000" stroke="none"/>
<circle cx="1036" cy="1989" r="2.0" fill="#000" stroke="none"/>
<circle cx="982" cy="2008" r="2.3" fill="#000" stroke="none"/>
<circle cx="1036" cy="1996" r="3.0" fill="#000" stroke="none"/>
<circle cx="997" cy="2028" r="2.6" fill="#000" stroke="none"/>
<circle cx="1022" cy="2028" r="3.0" fill="#000" stroke="none"/>
<circle cx="976" cy="2037" r="2.2" fill="#000" stroke="none"/>
<circle cx="1004" cy="2046" r="2.9" fill="#000" stroke="none"/>
<circle cx="1032" cy="2037" r="2.9" fill="#000" stroke="none"/>
<circle cx="1051" cy="2050" r="2.3" fill="#000" stroke="none"/>
<circle cx="990" cy="2071" r="1.9" fill="#000" stroke="none"/>
<circle cx="1043" cy="2063" r="2.8" fill="#000" stroke="none"/>
<circle cx="1012" cy="2090" r="2.1" fill="#000" stroke="none"/>
<circle cx="1036" cy="2079" r="2.2" fill="#000" stroke="none"/>
<circle cx="1049" cy="2080" r="2.3" fill="#000" stroke="none"/>
<circle cx="995" cy="2108" r="2.3" fill="#000" stroke="none"/>
<circle cx="1040" cy="2102" r="2.9" fill="#000" stroke="none"/>
<circle cx="1062" cy="2109" r="2.5" fill="#000" stroke="none"/>
<circle cx="987" cy="2128" r="2.3" fill="#000" stroke="none"/>
<circle cx="998" cy="2129" r="2.2" fill="#000" stroke="none"/>
<circle cx="1031" cy="2118" r="2.2" fill="#000" stroke="none"/>
<circle cx="1054" cy="2124" r="2.9" fill="#000" stroke="none"/>
<circle cx="995" cy="2143" r="2.3" fill="#000" stroke="none"/>
<circle cx="1016" cy="2140" r="2.1" fill="#000" stroke="none"/>
<circle cx="1042" cy="2143" r="2.1" fill="#000" stroke="none"/>
<circle cx="1062" cy="2140" r="2.5" fill="#000" stroke="none"/>
<circle cx="984" cy="2158" r="2.0" fill="#000" stroke="none"/>
<circle cx="1005" cy="2159" r="2.1" fill="#000" stroke="none"/>
<circle cx="1036" cy="2167" r="3.0" fill="#000" stroke="none"/>
<circle cx="986" cy="2187" r="1.9" fill="#000" stroke="none"/>
<circle cx="1016" cy="2186" r="2.7" fill="#000" stroke="none"/>
<circle cx="1044" cy="2186" r="2.4" fill="#000" stroke="none"/>
<circle cx="1073" cy="2185" r="1.9" fill="#000" stroke="none"/>
<circle cx="1006" cy="2205" r="2.9" fill="#000" stroke="none"/>
<circle cx="1023" cy="2204" r="2.2" fill="#000" stroke="none"/>
<circle cx="1047" cy="2207" r="1.9" fill="#000" stroke="none"/>
<circle cx="1010" cy="2226" r="2.9" fill="#000" stroke="none"/>
<circle cx="1048" cy="2219" r="3.0" fill="#000" stroke="none"/>
<polyline points="617.0,1899.0 617.0,1871.0 1011.0,1871.0 1093.0,2215.0" stroke-width="3" fill="none" />
<clipPath id="c11"><polygon points="619.0,1899.0 975.0,1899.0 975.0,2679.0 1112.0,2679.0 1112.0,2947.0 619.0,2947.0"/></clipPath>
<g clip-path="url(#c11)">
<line x1="641.0" y1="1894.0" x2="-412.0" y2="2957.0" stroke-width="2.6"/>
<line x1="703.0" y1="1894.0" x2="-350.0" y2="2957.0" stroke-width="2.6"/>
<line x1="765.0" y1="1894.0" x2="-288.0" y2="2957.0" stroke-width="2.6"/>
<line x1="827.0" y1="1894.0" x2="-226.0" y2="2957.0" stroke-width="2.6"/>
<line x1="889.0" y1="1894.0" x2="-164.0" y2="2957.0" stroke-width="2.6"/>
<line x1="951.0" y1="1894.0" x2="-102.0" y2="2957.0" stroke-width="2.6"/>
<line x1="1013.0" y1="1894.0" x2="-40.0" y2="2957.0" stroke-width="2.6"/>
<line x1="1075.0" y1="1894.0" x2="22.0" y2="2957.0" stroke-width="2.6"/>
<line x1="1137.0" y1="1894.0" x2="84.0" y2="2957.0" stroke-width="2.6"/>
<line x1="1199.0" y1="1894.0" x2="146.0" y2="2957.0" stroke-width="2.6"/>
<line x1="1261.0" y1="1894.0" x2="208.0" y2="2957.0" stroke-width="2.6"/>
<line x1="1323.0" y1="1894.0" x2="270.0" y2="2957.0" stroke-width="2.6"/>
<line x1="1385.0" y1="1894.0" x2="332.0" y2="2957.0" stroke-width="2.6"/>
<line x1="1447.0" y1="1894.0" x2="394.0" y2="2957.0" stroke-width="2.6"/>
<line x1="1509.0" y1="1894.0" x2="456.0" y2="2957.0" stroke-width="2.6"/>
<line x1="1571.0" y1="1894.0" x2="518.0" y2="2957.0" stroke-width="2.6"/>
<line x1="1633.0" y1="1894.0" x2="580.0" y2="2957.0" stroke-width="2.6"/>
<line x1="1695.0" y1="1894.0" x2="642.0" y2="2957.0" stroke-width="2.6"/>
<line x1="1757.0" y1="1894.0" x2="704.0" y2="2957.0" stroke-width="2.6"/>
<line x1="1819.0" y1="1894.0" x2="766.0" y2="2957.0" stroke-width="2.6"/>
<line x1="1881.0" y1="1894.0" x2="828.0" y2="2957.0" stroke-width="2.6"/>
<line x1="1943.0" y1="1894.0" x2="890.0" y2="2957.0" stroke-width="2.6"/>
<line x1="2005.0" y1="1894.0" x2="952.0" y2="2957.0" stroke-width="2.6"/>
<line x1="2067.0" y1="1894.0" x2="1014.0" y2="2957.0" stroke-width="2.6"/>
<line x1="2129.0" y1="1894.0" x2="1076.0" y2="2957.0" stroke-width="2.6"/>
</g>
<polyline points="619.0,1899.0 619.0,3004.0" stroke-width="3" fill="none" />
<polyline points="619.0,1899.0 975.0,1899.0 975.0,2679.0 1112.0,2679.0 1112.0,2947.0 619.0,2947.0" stroke-width="6" fill="none" />
<polyline points="975.0,2215.0 1040.0,2215.0 1040.0,2205.0 1093.0,2205.0" stroke-width="3" fill="none" />
<line x1="724.0" y1="2155.0" x2="975.0" y2="2155.0" stroke-width="5" stroke-dasharray="40,26"/>
<line x1="724.0" y1="2155.0" x2="724.0" y2="2684.0" stroke-width="5" stroke-dasharray="40,26"/>
<line x1="724.0" y1="2684.0" x2="975.0" y2="2684.0" stroke-width="5" stroke-dasharray="40,26"/>
<line x1="735.0" y1="2165.0" x2="965.0" y2="2675.0" stroke-width="5" stroke-dasharray="36,40"/>
<line x1="965.0" y1="2165.0" x2="735.0" y2="2675.0" stroke-width="5" stroke-dasharray="36,40"/>
<path d="M 879 1871 L 879 1745 Q 879 1720 904 1720 L 1583 1720 L 1583 3007" stroke-width="4" fill="none" />
<polyline points="1116.0,2643.0 1116.0,3004.0" stroke-width="5" fill="none" />
<polyline points="1116.0,3004.0 1583.0,3004.0" stroke-width="4" fill="none" />
<ellipse cx="1008.5" cy="2245.0" rx="28.5" ry="13" stroke-width="5"/>
<ellipse cx="1008.5" cy="2286.0" rx="28.5" ry="13" stroke-width="5"/>
<ellipse cx="1008.5" cy="2327.0" rx="28.5" ry="13" stroke-width="5"/>
<ellipse cx="1008.5" cy="2368.0" rx="28.5" ry="13" stroke-width="5"/>
<ellipse cx="1008.5" cy="2409.0" rx="28.5" ry="13" stroke-width="5"/>
<ellipse cx="1008.5" cy="2450.0" rx="28.5" ry="13" stroke-width="5"/>
<ellipse cx="1008.5" cy="2491.0" rx="28.5" ry="13" stroke-width="5"/>
<ellipse cx="1008.5" cy="2532.0" rx="28.5" ry="13" stroke-width="5"/>
<ellipse cx="1008.5" cy="2573.0" rx="28.5" ry="13" stroke-width="5"/>
<ellipse cx="1008.5" cy="2614.0" rx="28.5" ry="13" stroke-width="5"/>
<ellipse cx="1008.5" cy="2655.0" rx="28.5" ry="13" stroke-width="5"/>
<clipPath id="c12"><polygon points="1088.0,2240.0 1169.0,2240.0 1178.0,2316.0 1203.0,2316.0 1203.0,2529.0 1088.0,2529.0"/></clipPath>
<g clip-path="url(#c12)">
<circle cx="1250.0" cy="2420.0" r="50.0" stroke-width="2.6"/>
<circle cx="1250.0" cy="2420.0" r="78.0" stroke-width="2.6"/>
<circle cx="1250.0" cy="2420.0" r="106.0" stroke-width="2.6"/>
<circle cx="1250.0" cy="2420.0" r="134.0" stroke-width="2.6"/>
<circle cx="1250.0" cy="2420.0" r="162.0" stroke-width="2.6"/>
<circle cx="1250.0" cy="2420.0" r="190.0" stroke-width="2.6"/>
<circle cx="1250.0" cy="2420.0" r="218.0" stroke-width="2.6"/>
<line x1="1250.0" y1="2420.0" x2="855.0" y2="2483.3" stroke-width="2.6"/>
<line x1="1250.0" y1="2420.0" x2="863.3" y2="2317.6" stroke-width="2.6"/>
<line x1="1250.0" y1="2420.0" x2="1002.8" y2="2105.5" stroke-width="2.6"/>
<line x1="1250.0" y1="2420.0" x2="901.4" y2="2223.9" stroke-width="2.6"/>
<line x1="1209.8" y1="2474.5" x2="1141.6" y2="2489.2" stroke-width="2.6"/>
<line x1="1136.1" y1="2295.9" x2="1103.0" y2="2328.5" stroke-width="2.6"/>
</g>
<clipPath id="c13"><polygon points="1037.0,2240.0 1088.0,2240.0 1088.0,2529.0 1037.0,2529.0"/></clipPath>
<g clip-path="url(#c13)">
<circle cx="1150.0" cy="2400.0" r="50.0" stroke-width="2.6"/>
<circle cx="1150.0" cy="2400.0" r="78.0" stroke-width="2.6"/>
<circle cx="1150.0" cy="2400.0" r="106.0" stroke-width="2.6"/>
<circle cx="1150.0" cy="2400.0" r="134.0" stroke-width="2.6"/>
<line x1="1150.0" y1="2400.0" x2="781.5" y2="2555.6" stroke-width="2.6"/>
<line x1="1150.0" y1="2400.0" x2="754.4" y2="2458.9" stroke-width="2.6"/>
<line x1="1150.0" y1="2400.0" x2="828.9" y2="2161.5" stroke-width="2.6"/>
<line x1="1150.0" y1="2400.0" x2="839.1" y2="2148.4" stroke-width="2.6"/>
<line x1="1059.5" y1="2435.8" x2="1093.1" y2="2492.1" stroke-width="2.6"/>
<line x1="1089.3" y1="2251.4" x2="1039.0" y2="2289.3" stroke-width="2.6"/>
</g>
<polygon points="1037.0,2240.0 1169.0,2240.0 1178.0,2316.0 1203.0,2316.0 1203.0,2529.0 1037.0,2529.0" stroke-width="6" fill="none" />
<polyline points="1088.0,2240.0 1088.0,2529.0" stroke-width="5" fill="none" />
<clipPath id="c14"><polygon points="1100.0,2529.0 1261.0,2529.0 1261.0,2575.0 1250.0,2580.0 1260.0,2611.0 1294.0,2611.0 1294.0,2643.0 1100.0,2643.0"/></clipPath>
<g clip-path="url(#c14)">
<circle cx="1200.0" cy="2690.0" r="30.0" stroke-width="2.6"/>
<circle cx="1200.0" cy="2690.0" r="58.0" stroke-width="2.6"/>
<circle cx="1200.0" cy="2690.0" r="86.0" stroke-width="2.6"/>
<circle cx="1200.0" cy="2690.0" r="114.0" stroke-width="2.6"/>
<circle cx="1200.0" cy="2690.0" r="142.0" stroke-width="2.6"/>
<line x1="1200.0" y1="2690.0" x2="1100.1" y2="2302.7" stroke-width="2.6"/>
<line x1="1200.0" y1="2690.0" x2="1249.3" y2="2293.0" stroke-width="2.6"/>
<line x1="1200.0" y1="2690.0" x2="1125.1" y2="2297.1" stroke-width="2.6"/>
<line x1="1200.0" y1="2690.0" x2="1206.4" y2="2290.1" stroke-width="2.6"/>
<line x1="1159.1" y1="2586.5" x2="1103.4" y2="2592.5" stroke-width="2.6"/>
<line x1="1286.0" y1="2542.4" x2="1278.0" y2="2608.5" stroke-width="2.6"/>
</g>
<polygon points="1046.0,2529.0 1261.0,2529.0 1261.0,2575.0 1250.0,2580.0 1260.0,2611.0 1294.0,2611.0 1294.0,2643.0 1046.0,2643.0" stroke-width="6" fill="none" />
<polyline points="1100.0,2529.0 1100.0,2643.0" stroke-width="5" fill="none" />
<clipPath id="c15"><polygon points="1151.0,2193.0 1275.0,2193.0 1290.0,2210.0 1290.0,2263.0 1272.0,2263.0 1272.0,2301.0 1184.0,2301.0 1176.0,2225.0 1151.0,2225.0"/></clipPath>
<g clip-path="url(#c15)">
<circle cx="1300.0" cy="2320.0" r="40.0" stroke-width="2.6"/>
<circle cx="1300.0" cy="2320.0" r="68.0" stroke-width="2.6"/>
<circle cx="1300.0" cy="2320.0" r="96.0" stroke-width="2.6"/>
<circle cx="1300.0" cy="2320.0" r="124.0" stroke-width="2.6"/>
<line x1="1300.0" y1="2320.0" x2="1074.1" y2="1989.9" stroke-width="2.6"/>
<line x1="1300.0" y1="2320.0" x2="1194.4" y2="1934.2" stroke-width="2.6"/>
<line x1="1300.0" y1="2320.0" x2="912.5" y2="2220.9" stroke-width="2.6"/>
<line x1="1300.0" y1="2320.0" x2="931.2" y2="2165.1" stroke-width="2.6"/>
<line x1="1264.5" y1="2178.6" x2="1289.5" y2="2210.3" stroke-width="2.6"/>
<line x1="1303.5" y1="2193.5" x2="1273.7" y2="2230.5" stroke-width="2.6"/>
</g>
<polygon points="1151.0,2193.0 1275.0,2193.0 1290.0,2210.0 1290.0,2263.0 1272.0,2263.0 1272.0,2301.0 1184.0,2301.0 1176.0,2225.0 1151.0,2225.0" stroke-width="6" fill="none" />
<clipPath id="c16"><polygon points="1248.0,2485.0 1365.0,2485.0 1375.0,2500.0 1375.0,2551.0 1357.0,2551.0 1357.0,2592.0 1273.0,2592.0 1273.0,2522.0 1248.0,2522.0"/></clipPath>
<g clip-path="url(#c16)">
<circle cx="1380.0" cy="2610.0" r="40.0" stroke-width="2.6"/>
<circle cx="1380.0" cy="2610.0" r="68.0" stroke-width="2.6"/>
<circle cx="1380.0" cy="2610.0" r="96.0" stroke-width="2.6"/>
<circle cx="1380.0" cy="2610.0" r="124.0" stroke-width="2.6"/>
<line x1="1380.0" y1="2610.0" x2="1174.4" y2="2266.9" stroke-width="2.6"/>
<line x1="1380.0" y1="2610.0" x2="1176.0" y2="2265.9" stroke-width="2.6"/>
<line x1="1380.0" y1="2610.0" x2="1199.3" y2="2253.1" stroke-width="2.6"/>
<line x1="1380.0" y1="2610.0" x2="1202.3" y2="2251.6" stroke-width="2.6"/>
<line x1="1260.2" y1="2467.7" x2="1301.1" y2="2508.2" stroke-width="2.6"/>
<line x1="1258.9" y1="2571.2" x2="1303.0" y2="2605.2" stroke-width="2.6"/>
</g>
<polygon points="1248.0,2485.0 1365.0,2485.0 1375.0,2500.0 1375.0,2551.0 1357.0,2551.0 1357.0,2592.0 1273.0,2592.0 1273.0,2522.0 1248.0,2522.0" stroke-width="6" fill="none" />
<line x1="1283.0" y1="2193.0" x2="1583.0" y2="2193.0" stroke-width="4"/>
<line x1="1290.0" y1="2266.0" x2="1583.0" y2="2266.0" stroke-width="3"/>
<line x1="1272.0" y1="2277.0" x2="1583.0" y2="2277.0" stroke-width="7"/>
<line x1="1272.0" y1="2301.0" x2="1583.0" y2="2301.0" stroke-width="4"/>
<line x1="1203.0" y1="2316.0" x2="1583.0" y2="2316.0" stroke-width="4"/>
<line x1="1365.0" y1="2485.0" x2="1583.0" y2="2485.0" stroke-width="4"/>
<line x1="1375.0" y1="2554.0" x2="1583.0" y2="2554.0" stroke-width="3"/>
<line x1="1357.0" y1="2567.0" x2="1583.0" y2="2567.0" stroke-width="7"/>
<line x1="1357.0" y1="2594.0" x2="1583.0" y2="2594.0" stroke-width="4"/>
<line x1="1294.0" y1="2613.0" x2="1583.0" y2="2613.0" stroke-width="4"/>
<line x1="1294.0" y1="2645.0" x2="1583.0" y2="2645.0" stroke-width="5"/>
<circle cx="2191" cy="1883" r="3.1" fill="#000" stroke="none"/>
<circle cx="2218" cy="1888" r="2.1" fill="#000" stroke="none"/>
<circle cx="2244" cy="1882" r="2.7" fill="#000" stroke="none"/>
<circle cx="2275" cy="1877" r="3.0" fill="#000" stroke="none"/>
<circle cx="2301" cy="1876" r="2.9" fill="#000" stroke="none"/>
<circle cx="2327" cy="1888" r="2.7" fill="#000" stroke="none"/>
<circle cx="2339" cy="1879" r="3.0" fill="#000" stroke="none"/>
<circle cx="2374" cy="1885" r="2.7" fill="#000" stroke="none"/>
<circle cx="2391" cy="1877" r="3.1" fill="#000" stroke="none"/>
<circle cx="2424" cy="1885" r="2.1" fill="#000" stroke="none"/>
<circle cx="2439" cy="1889" r="2.0" fill="#000" stroke="none"/>
<circle cx="2500" cy="1878" r="2.8" fill="#000" stroke="none"/>
<circle cx="2519" cy="1884" r="2.0" fill="#000" stroke="none"/>
<circle cx="2551" cy="1880" r="2.3" fill="#000" stroke="none"/>
<circle cx="2567" cy="1879" r="2.1" fill="#000" stroke="none"/>
<circle cx="2189" cy="1900" r="1.9" fill="#000" stroke="none"/>
<circle cx="2203" cy="1903" r="2.7" fill="#000" stroke="none"/>
<circle cx="2512" cy="1897" r="2.4" fill="#000" stroke="none"/>
<circle cx="2579" cy="1896" r="2.7" fill="#000" stroke="none"/>
<circle cx="2201" cy="1930" r="2.8" fill="#000" stroke="none"/>
<circle cx="2180" cy="1943" r="2.6" fill="#000" stroke="none"/>
<circle cx="2204" cy="1940" r="2.0" fill="#000" stroke="none"/>
<circle cx="2190" cy="1969" r="2.6" fill="#000" stroke="none"/>
<circle cx="2224" cy="1960" r="2.1" fill="#000" stroke="none"/>
<circle cx="2182" cy="1987" r="2.4" fill="#000" stroke="none"/>
<circle cx="2209" cy="1976" r="2.7" fill="#000" stroke="none"/>
<circle cx="2165" cy="2005" r="2.7" fill="#000" stroke="none"/>
<circle cx="2201" cy="2007" r="2.3" fill="#000" stroke="none"/>
<circle cx="2217" cy="2010" r="2.5" fill="#000" stroke="none"/>
<circle cx="2189" cy="2027" r="3.1" fill="#000" stroke="none"/>
<circle cx="2171" cy="2045" r="2.2" fill="#000" stroke="none"/>
<circle cx="2200" cy="2048" r="2.4" fill="#000" stroke="none"/>
<circle cx="2220" cy="2037" r="3.1" fill="#000" stroke="none"/>
<circle cx="2164" cy="2061" r="2.0" fill="#000" stroke="none"/>
<circle cx="2182" cy="2059" r="2.4" fill="#000" stroke="none"/>
<circle cx="2178" cy="2087" r="2.7" fill="#000" stroke="none"/>
<circle cx="2190" cy="2089" r="2.5" fill="#000" stroke="none"/>
<circle cx="2219" cy="2088" r="2.8" fill="#000" stroke="none"/>
<circle cx="2141" cy="2106" r="2.0" fill="#000" stroke="none"/>
<circle cx="2185" cy="2102" r="2.8" fill="#000" stroke="none"/>
<circle cx="2203" cy="2104" r="2.9" fill="#000" stroke="none"/>
<circle cx="2203" cy="2124" r="2.0" fill="#000" stroke="none"/>
<circle cx="2226" cy="2122" r="2.6" fill="#000" stroke="none"/>
<circle cx="2133" cy="2145" r="2.2" fill="#000" stroke="none"/>
<circle cx="2155" cy="2137" r="2.1" fill="#000" stroke="none"/>
<circle cx="2184" cy="2139" r="2.4" fill="#000" stroke="none"/>
<circle cx="2216" cy="2143" r="3.0" fill="#000" stroke="none"/>
<circle cx="2145" cy="2159" r="2.0" fill="#000" stroke="none"/>
<circle cx="2219" cy="2163" r="2.5" fill="#000" stroke="none"/>
<circle cx="2140" cy="2177" r="3.0" fill="#000" stroke="none"/>
<circle cx="2154" cy="2187" r="2.9" fill="#000" stroke="none"/>
<circle cx="2178" cy="2189" r="2.8" fill="#000" stroke="none"/>
<circle cx="2216" cy="2177" r="1.9" fill="#000" stroke="none"/>
<circle cx="2227" cy="2187" r="2.6" fill="#000" stroke="none"/>
<circle cx="2141" cy="2199" r="2.3" fill="#000" stroke="none"/>
<circle cx="2164" cy="2208" r="2.8" fill="#000" stroke="none"/>
<circle cx="2189" cy="2208" r="2.4" fill="#000" stroke="none"/>
<circle cx="2223" cy="2207" r="2.4" fill="#000" stroke="none"/>
<circle cx="2188" cy="2218" r="2.2" fill="#000" stroke="none"/>
<circle cx="2215" cy="2223" r="2.8" fill="#000" stroke="none"/>
<polyline points="2585.0,1899.0 2585.0,1871.0 2191.0,1871.0 2109.0,2215.0" stroke-width="3" fill="none" />
<clipPath id="c17"><polygon points="2583.0,1899.0 2227.0,1899.0 2227.0,2679.0 2090.0,2679.0 2090.0,2947.0 2583.0,2947.0"/></clipPath>
<g clip-path="url(#c17)">
<line x1="1062.0" y1="1889.0" x2="2130.0" y2="2957.0" stroke-width="2.6"/>
<line x1="1124.0" y1="1889.0" x2="2192.0" y2="2957.0" stroke-width="2.6"/>
<line x1="1186.0" y1="1889.0" x2="2254.0" y2="2957.0" stroke-width="2.6"/>
<line x1="1248.0" y1="1889.0" x2="2316.0" y2="2957.0" stroke-width="2.6"/>
<line x1="1310.0" y1="1889.0" x2="2378.0" y2="2957.0" stroke-width="2.6"/>
<line x1="1372.0" y1="1889.0" x2="2440.0" y2="2957.0" stroke-width="2.6"/>
<line x1="1434.0" y1="1889.0" x2="2502.0" y2="2957.0" stroke-width="2.6"/>
<line x1="1496.0" y1="1889.0" x2="2564.0" y2="2957.0" stroke-width="2.6"/>
<line x1="1558.0" y1="1889.0" x2="2626.0" y2="2957.0" stroke-width="2.6"/>
<line x1="1620.0" y1="1889.0" x2="2688.0" y2="2957.0" stroke-width="2.6"/>
<line x1="1682.0" y1="1889.0" x2="2750.0" y2="2957.0" stroke-width="2.6"/>
<line x1="1744.0" y1="1889.0" x2="2812.0" y2="2957.0" stroke-width="2.6"/>
<line x1="1806.0" y1="1889.0" x2="2874.0" y2="2957.0" stroke-width="2.6"/>
<line x1="1868.0" y1="1889.0" x2="2936.0" y2="2957.0" stroke-width="2.6"/>
<line x1="1930.0" y1="1889.0" x2="2998.0" y2="2957.0" stroke-width="2.6"/>
<line x1="1992.0" y1="1889.0" x2="3060.0" y2="2957.0" stroke-width="2.6"/>
<line x1="2054.0" y1="1889.0" x2="3122.0" y2="2957.0" stroke-width="2.6"/>
<line x1="2116.0" y1="1889.0" x2="3184.0" y2="2957.0" stroke-width="2.6"/>
<line x1="2178.0" y1="1889.0" x2="3246.0" y2="2957.0" stroke-width="2.6"/>
<line x1="2240.0" y1="1889.0" x2="3308.0" y2="2957.0" stroke-width="2.6"/>
<line x1="2302.0" y1="1889.0" x2="3370.0" y2="2957.0" stroke-width="2.6"/>
<line x1="2364.0" y1="1889.0" x2="3432.0" y2="2957.0" stroke-width="2.6"/>
<line x1="2426.0" y1="1889.0" x2="3494.0" y2="2957.0" stroke-width="2.6"/>
<line x1="2488.0" y1="1889.0" x2="3556.0" y2="2957.0" stroke-width="2.6"/>
<line x1="2550.0" y1="1889.0" x2="3618.0" y2="2957.0" stroke-width="2.6"/>
</g>
<polyline points="2583.0,1899.0 2583.0,3004.0" stroke-width="3" fill="none" />
<polyline points="2583.0,1899.0 2227.0,1899.0 2227.0,2679.0 2090.0,2679.0 2090.0,2947.0 2583.0,2947.0" stroke-width="6" fill="none" />
<polyline points="2227.0,2215.0 2162.0,2215.0 2162.0,2205.0 2109.0,2205.0" stroke-width="3" fill="none" />
<line x1="2478.0" y1="2155.0" x2="2227.0" y2="2155.0" stroke-width="5" stroke-dasharray="40,26"/>
<line x1="2478.0" y1="2155.0" x2="2478.0" y2="2684.0" stroke-width="5" stroke-dasharray="40,26"/>
<line x1="2478.0" y1="2684.0" x2="2227.0" y2="2684.0" stroke-width="5" stroke-dasharray="40,26"/>
<line x1="2467.0" y1="2165.0" x2="2237.0" y2="2675.0" stroke-width="5" stroke-dasharray="36,40"/>
<line x1="2237.0" y1="2165.0" x2="2467.0" y2="2675.0" stroke-width="5" stroke-dasharray="36,40"/>
<path d="M 2323 1857 L 2323 1745 Q 2323 1720 2298 1720 L 1632 1720 L 1632 3007" stroke-width="4" fill="none" />
<polyline points="2086.0,2643.0 2086.0,3004.0" stroke-width="5" fill="none" />
<polyline points="1632.0,3007.0 2086.0,3007.0" stroke-width="4" fill="none" />
<ellipse cx="2193.5" cy="2245.0" rx="28.5" ry="13" stroke-width="5"/>
<ellipse cx="2193.5" cy="2286.0" rx="28.5" ry="13" stroke-width="5"/>
<ellipse cx="2193.5" cy="2327.0" rx="28.5" ry="13" stroke-width="5"/>
<ellipse cx="2193.5" cy="2368.0" rx="28.5" ry="13" stroke-width="5"/>
<ellipse cx="2193.5" cy="2409.0" rx="28.5" ry="13" stroke-width="5"/>
<ellipse cx="2193.5" cy="2450.0" rx="28.5" ry="13" stroke-width="5"/>
<ellipse cx="2193.5" cy="2491.0" rx="28.5" ry="13" stroke-width="5"/>
<ellipse cx="2193.5" cy="2532.0" rx="28.5" ry="13" stroke-width="5"/>
<ellipse cx="2193.5" cy="2573.0" rx="28.5" ry="13" stroke-width="5"/>
<ellipse cx="2193.5" cy="2614.0" rx="28.5" ry="13" stroke-width="5"/>
<ellipse cx="2193.5" cy="2655.0" rx="28.5" ry="13" stroke-width="5"/>
<clipPath id="c18"><polygon points="2114.0,2240.0 2033.0,2240.0 2024.0,2316.0 1999.0,2316.0 1999.0,2529.0 2114.0,2529.0"/></clipPath>
<g clip-path="url(#c18)">
<circle cx="1952.0" cy="2420.0" r="50.0" stroke-width="2.6"/>
<circle cx="1952.0" cy="2420.0" r="78.0" stroke-width="2.6"/>
<circle cx="1952.0" cy="2420.0" r="106.0" stroke-width="2.6"/>
<circle cx="1952.0" cy="2420.0" r="134.0" stroke-width="2.6"/>
<circle cx="1952.0" cy="2420.0" r="162.0" stroke-width="2.6"/>
<circle cx="1952.0" cy="2420.0" r="190.0" stroke-width="2.6"/>
<circle cx="1952.0" cy="2420.0" r="218.0" stroke-width="2.6"/>
<line x1="1952.0" y1="2420.0" x2="2347.8" y2="2477.6" stroke-width="2.6"/>
<line x1="1952.0" y1="2420.0" x2="2204.9" y2="2110.1" stroke-width="2.6"/>
<line x1="1952.0" y1="2420.0" x2="2324.9" y2="2275.3" stroke-width="2.6"/>
<line x1="1952.0" y1="2420.0" x2="2325.7" y2="2277.4" stroke-width="2.6"/>
<line x1="2104.2" y1="2313.2" x2="2061.5" y2="2365.2" stroke-width="2.6"/>
<line x1="2000.2" y1="2465.9" x2="2029.2" y2="2485.0" stroke-width="2.6"/>
</g>
<clipPath id="c19"><polygon points="2165.0,2240.0 2114.0,2240.0 2114.0,2529.0 2165.0,2529.0"/></clipPath>
<g clip-path="url(#c19)">
<circle cx="2052.0" cy="2400.0" r="50.0" stroke-width="2.6"/>
<circle cx="2052.0" cy="2400.0" r="78.0" stroke-width="2.6"/>
<circle cx="2052.0" cy="2400.0" r="106.0" stroke-width="2.6"/>
<circle cx="2052.0" cy="2400.0" r="134.0" stroke-width="2.6"/>
<line x1="2052.0" y1="2400.0" x2="2392.5" y2="2190.2" stroke-width="2.6"/>
<line x1="2052.0" y1="2400.0" x2="2445.9" y2="2330.3" stroke-width="2.6"/>
<line x1="2052.0" y1="2400.0" x2="2424.7" y2="2254.7" stroke-width="2.6"/>
<line x1="2052.0" y1="2400.0" x2="2386.9" y2="2181.2" stroke-width="2.6"/>
<line x1="2157.7" y1="2462.7" x2="2118.6" y2="2471.5" stroke-width="2.6"/>
<line x1="2151.5" y1="2494.6" x2="2099.0" y2="2509.3" stroke-width="2.6"/>
</g>
<polygon points="2165.0,2240.0 2033.0,2240.0 2024.0,2316.0 1999.0,2316.0 1999.0,2529.0 2165.0,2529.0" stroke-width="6" fill="none" />
<polyline points="2114.0,2240.0 2114.0,2529.0" stroke-width="5" fill="none" />
<clipPath id="c20"><polygon points="2102.0,2529.0 1941.0,2529.0 1941.0,2575.0 1952.0,2580.0 1942.0,2611.0 1908.0,2611.0 1908.0,2643.0 2102.0,2643.0"/></clipPath>
<g clip-path="url(#c20)">
<circle cx="2002.0" cy="2690.0" r="30.0" stroke-width="2.6"/>
<circle cx="2002.0" cy="2690.0" r="58.0" stroke-width="2.6"/>
<circle cx="2002.0" cy="2690.0" r="86.0" stroke-width="2.6"/>
<circle cx="2002.0" cy="2690.0" r="114.0" stroke-width="2.6"/>
<circle cx="2002.0" cy="2690.0" r="142.0" stroke-width="2.6"/>
<line x1="2002.0" y1="2690.0" x2="2225.9" y2="2358.5" stroke-width="2.6"/>
<line x1="2002.0" y1="2690.0" x2="2140.8" y2="2314.8" stroke-width="2.6"/>
<line x1="2002.0" y1="2690.0" x2="2075.9" y2="2296.9" stroke-width="2.6"/>
<line x1="2002.0" y1="2690.0" x2="2029.3" y2="2290.9" stroke-width="2.6"/>
<line x1="2023.9" y1="2525.6" x2="1964.2" y2="2554.9" stroke-width="2.6"/>
<line x1="2056.4" y1="2602.6" x2="2024.2" y2="2625.2" stroke-width="2.6"/>
</g>
<polygon points="2156.0,2529.0 1941.0,2529.0 1941.0,2575.0 1952.0,2580.0 1942.0,2611.0 1908.0,2611.0 1908.0,2643.0 2156.0,2643.0" stroke-width="6" fill="none" />
<polyline points="2102.0,2529.0 2102.0,2643.0" stroke-width="5" fill="none" />
<clipPath id="c21"><polygon points="2051.0,2193.0 1927.0,2193.0 1912.0,2210.0 1912.0,2263.0 1930.0,2263.0 1930.0,2301.0 2018.0,2301.0 2026.0,2225.0 2051.0,2225.0"/></clipPath>
<g clip-path="url(#c21)">
<circle cx="1902.0" cy="2320.0" r="40.0" stroke-width="2.6"/>
<circle cx="1902.0" cy="2320.0" r="68.0" stroke-width="2.6"/>
<circle cx="1902.0" cy="2320.0" r="96.0" stroke-width="2.6"/>
<circle cx="1902.0" cy="2320.0" r="124.0" stroke-width="2.6"/>
<line x1="1902.0" y1="2320.0" x2="2184.4" y2="2036.8" stroke-width="2.6"/>
<line x1="1902.0" y1="2320.0" x2="2277.0" y2="2180.9" stroke-width="2.6"/>
<line x1="1902.0" y1="2320.0" x2="2294.9" y2="2245.1" stroke-width="2.6"/>
<line x1="1902.0" y1="2320.0" x2="2291.0" y2="2226.9" stroke-width="2.6"/>
<line x1="1986.8" y1="2241.7" x2="2027.3" y2="2264.0" stroke-width="2.6"/>
<line x1="1909.6" y1="2231.3" x2="1952.5" y2="2256.3" stroke-width="2.6"/>
</g>
<polygon points="2051.0,2193.0 1927.0,2193.0 1912.0,2210.0 1912.0,2263.0 1930.0,2263.0 1930.0,2301.0 2018.0,2301.0 2026.0,2225.0 2051.0,2225.0" stroke-width="6" fill="none" />
<clipPath id="c22"><polygon points="1954.0,2485.0 1837.0,2485.0 1827.0,2500.0 1827.0,2551.0 1845.0,2551.0 1845.0,2592.0 1929.0,2592.0 1929.0,2522.0 1954.0,2522.0"/></clipPath>
<g clip-path="url(#c22)">
<circle cx="1822.0" cy="2610.0" r="40.0" stroke-width="2.6"/>
<circle cx="1822.0" cy="2610.0" r="68.0" stroke-width="2.6"/>
<circle cx="1822.0" cy="2610.0" r="96.0" stroke-width="2.6"/>
<circle cx="1822.0" cy="2610.0" r="124.0" stroke-width="2.6"/>
<line x1="1822.0" y1="2610.0" x2="2008.6" y2="2256.2" stroke-width="2.6"/>
<line x1="1822.0" y1="2610.0" x2="2049.6" y2="2281.0" stroke-width="2.6"/>
<line x1="1822.0" y1="2610.0" x2="2116.9" y2="2339.7" stroke-width="2.6"/>
<line x1="1822.0" y1="2610.0" x2="2174.4" y2="2420.8" stroke-width="2.6"/>
<line x1="1853.8" y1="2558.3" x2="1841.4" y2="2601.3" stroke-width="2.6"/>
<line x1="1978.1" y1="2496.7" x2="1925.2" y2="2503.4" stroke-width="2.6"/>
</g>
<polygon points="1954.0,2485.0 1837.0,2485.0 1827.0,2500.0 1827.0,2551.0 1845.0,2551.0 1845.0,2592.0 1929.0,2592.0 1929.0,2522.0 1954.0,2522.0" stroke-width="6" fill="none" />
<line x1="1919.0" y1="2193.0" x2="1632.0" y2="2193.0" stroke-width="4"/>
<line x1="1912.0" y1="2266.0" x2="1632.0" y2="2266.0" stroke-width="3"/>
<line x1="1930.0" y1="2277.0" x2="1632.0" y2="2277.0" stroke-width="7"/>
<line x1="1930.0" y1="2301.0" x2="1632.0" y2="2301.0" stroke-width="4"/>
<line x1="1999.0" y1="2316.0" x2="1632.0" y2="2316.0" stroke-width="4"/>
<line x1="1837.0" y1="2485.0" x2="1632.0" y2="2485.0" stroke-width="4"/>
<line x1="1827.0" y1="2554.0" x2="1632.0" y2="2554.0" stroke-width="3"/>
<line x1="1845.0" y1="2567.0" x2="1632.0" y2="2567.0" stroke-width="7"/>
<line x1="1845.0" y1="2594.0" x2="1632.0" y2="2594.0" stroke-width="4"/>
<line x1="1908.0" y1="2613.0" x2="1632.0" y2="2613.0" stroke-width="4"/>
<line x1="1908.0" y1="2645.0" x2="1632.0" y2="2645.0" stroke-width="5"/>
<polyline points="600.0,2447.0 629.0,2410.6 602.0,2412.4 631.0,2376.0" stroke-width="3" fill="none" />
<line x1="1583" y1="2393" x2="1583" y2="2419" stroke="#fff" stroke-width="9"/>
<line x1="1632" y1="2366" x2="1632" y2="2407" stroke="#fff" stroke-width="9"/>
<polyline points="1598.0,2375.0 1583.0,2392.0 1584.0,2420.0 1561.0,2447.0" stroke-width="4" fill="none" />
<polyline points="1654.0,2344.0 1632.0,2365.0 1632.0,2408.0 1609.0,2434.0" stroke-width="4" fill="none" />
<polyline points="2567.0,2400.0 2605.7,2373.0 2579.3,2367.0 2618.0,2340.0" stroke-width="3" fill="none" />
<text transform="translate(2717.0,247.0) scale(0.441,1)" x="0" y="0" font-size="88.4" font-family="Liberation Sans" font-weight="normal" word-spacing="39.8" textLength="129.4" lengthAdjust="spacing" stroke="#000" stroke-width="2.5" >43</text>
<text transform="translate(2691.0,469.0) scale(0.444,1)" x="0" y="0" font-size="84.1" font-family="Liberation Sans" font-weight="bold" word-spacing="37.8" textLength="184.5" lengthAdjust="spacing" stroke="#000" stroke-width="2.5" >30с</text>
<text transform="translate(2697.0,679.0) scale(0.450,1)" x="0" y="0" font-size="84.1" font-family="Liberation Sans" font-weight="bold" word-spacing="37.8" textLength="184.5" lengthAdjust="spacing" stroke="#000" stroke-width="2.5" >29с</text>
<text transform="translate(2706.0,1794.0) scale(0.407,1)" x="0" y="0" font-size="94.2" font-family="Liberation Sans" font-weight="bold" word-spacing="42.4" textLength="213.6" lengthAdjust="spacing" stroke="#000" stroke-width="2.5" >30р</text>
<text transform="translate(2706.0,1997.0) scale(0.403,1)" x="0" y="0" font-size="98.6" font-family="Liberation Sans" font-weight="bold" word-spacing="44.3" textLength="223.4" lengthAdjust="spacing" stroke="#000" stroke-width="2.5" >29р</text>
<text transform="translate(237.0,305.0) scale(0.452,1)" x="0" y="0" font-size="71.0" font-family="Liberation Sans" font-weight="bold" word-spacing="32.0" textLength="1114.1" lengthAdjust="spacing" stroke="#000" stroke-width="2.5" >АНТИСЕПТИРОВАННАЯ</text>
<line x1="215.0" y1="307.0" x2="765.0" y2="307.0" stroke-width="4"/>
<polyline points="765.0,307.0 878.0,736.0" stroke-width="2.5" fill="none" />
<text transform="translate(228.0,368.0) scale(0.447,1)" x="0" y="0" font-size="69.6" font-family="Liberation Sans" font-weight="bold" word-spacing="31.3" textLength="1093.3" lengthAdjust="spacing" stroke="#000" stroke-width="2.5" >ДЕРЕВЯННАЯ ПРОБКА</text>
<text transform="translate(225.0,631.0) scale(0.473,1)" x="0" y="0" font-size="68.1" font-family="Liberation Sans" font-weight="bold" word-spacing="30.7" textLength="727.4" lengthAdjust="spacing" stroke="#000" stroke-width="2.5" >КОСТЫЛЬ ММЗ</text>
<line x1="212.0" y1="638.0" x2="569.0" y2="638.0" stroke-width="4"/>
<polyline points="569.0,638.0 1024.0,962.0" stroke-width="2.5" fill="none" />
<text transform="translate(230.0,695.0) scale(0.417,1)" x="0" y="0" font-size="71.0" font-family="Liberation Sans" font-weight="bold" word-spacing="32.0" textLength="664.9" lengthAdjust="spacing" stroke="#000" stroke-width="2.5" >СМ. ЛИСТ 50</text>
<text transform="translate(243.0,858.0) scale(0.471,1)" x="0" y="0" font-size="66.7" font-family="Liberation Sans" font-weight="bold" word-spacing="30.0" textLength="242.1" lengthAdjust="spacing" stroke="#000" stroke-width="2.5" >ТОЛЬ</text>
<line x1="207.0" y1="866.0" x2="533.0" y2="866.0" stroke-width="4"/>
<polyline points="533.0,866.0 1034.0,1034.0" stroke-width="2.5" fill="none" stroke-dasharray="26,7"/>
<text transform="translate(310.0,974.0) scale(0.408,1)" x="0" y="0" font-size="81.2" font-family="Liberation Sans" font-weight="bold" word-spacing="9.7" textLength="629.5" lengthAdjust="spacing" stroke="#000" stroke-width="2.5" >ДЛЯ ТД 29с</text>
<line x1="269.0" y1="982.0" x2="579.0" y2="982.0" stroke-width="4"/>
<polyline points="579.0,982.0 1013.0,1101.0" stroke-width="2.5" fill="none" />
<text transform="translate(240.0,1096.0) scale(0.485,1)" x="0" y="0" font-size="66.7" font-family="Liberation Sans" font-weight="bold" word-spacing="30.0" textLength="545.8" lengthAdjust="spacing" stroke="#000" stroke-width="2.5" >КОНОПАТКА</text>
<line x1="212.0" y1="1104.0" x2="574.0" y2="1104.0" stroke-width="4"/>
<polyline points="574.0,1104.0 1018.0,1189.0" stroke-width="2.5" fill="none" />
<text transform="translate(1243.0,1344.0) scale(0.535,1)" x="0" y="0" font-size="63.8" font-family="Liberation Sans" font-weight="bold" word-spacing="28.7" textLength="447.0" lengthAdjust="spacing" stroke="#000" stroke-width="2.5" >ГЕРМЕТИК</text>
<line x1="1218.0" y1="1356.0" x2="1560.0" y2="1356.0" stroke-width="4"/>
<polyline points="1218.0,1356.0 1133.0,1231.0" stroke-width="2.5" fill="none" />
<text transform="translate(1018.0,1603.0) scale(0.572,1)" x="0" y="0" font-size="60.9" font-family="Liberation Sans" font-weight="bold" word-spacing="27.4" textLength="227.5" lengthAdjust="spacing" stroke="#000" stroke-width="2.5" >СЛИВ</text>
<line x1="968.0" y1="1615.0" x2="1236.0" y2="1615.0" stroke-width="4"/>
<polyline points="1236.0,1615.0 1336.0,1423.0" stroke-width="2.5" fill="none" />
<text transform="translate(1921.0,188.0) scale(0.496,1)" x="0" y="0" font-size="62.3" font-family="Liberation Sans" font-weight="bold" word-spacing="28.0" textLength="594.2" lengthAdjust="spacing" stroke="#000" stroke-width="2.5" >ПОДОКОННАЯ</text>
<line x1="1894.0" y1="192.0" x2="2365.0" y2="192.0" stroke-width="4"/>
<polyline points="1894.0,192.0 1822.0,444.0" stroke-width="2.5" fill="none" />
<text transform="translate(1907.0,250.0) scale(0.435,1)" x="0" y="0" font-size="72.5" font-family="Liberation Sans" font-weight="bold" word-spacing="32.6" textLength="1005.8" lengthAdjust="spacing" stroke="#000" stroke-width="2.5" >ДОСКА ИЛИ ПЛИТА</text>
<text transform="translate(2635.0,922.0) scale(0.337,1)" x="0" y="0" font-size="78.3" font-family="Liberation Sans" font-weight="bold" word-spacing="9.4" textLength="566.1" lengthAdjust="spacing" stroke="#000" stroke-width="2.5" >ДЛЯ ТД29с</text>
<line x1="2630.0" y1="926.0" x2="2830.0" y2="926.0" stroke-width="4"/>
<polyline points="2630.0,926.0 2210.0,1040.0" stroke-width="2.5" fill="none" />
<text transform="translate(1997.0,882.0) scale(0.515,1)" x="0" y="0" font-size="71.0" font-family="Liberation Sans" font-weight="bold" word-spacing="32.0" textLength="155.2" lengthAdjust="spacing" stroke="#000" stroke-width="2.5" >≥15</text>
<line x1="2066.0" y1="889.0" x2="2124.0" y2="889.0" stroke-width="2.5"/>
<line x1="2066.0" y1="870.0" x2="2066.0" y2="962.0" stroke-width="2.5"/>
<line x1="2124.0" y1="870.0" x2="2124.0" y2="997.0" stroke-width="2.5"/>
<text transform="translate(2245.0,1573.0) scale(0.420,1)" x="0" y="0" font-size="71.0" font-family="Liberation Sans" font-weight="bold" word-spacing="32.0" textLength="919.5" lengthAdjust="spacing" stroke="#000" stroke-width="2.5" >20-35 ДЛЯ ТД 29с</text>
<text transform="translate(2245.0,1643.0) scale(0.451,1)" x="0" y="0" font-size="71.0" font-family="Liberation Sans" font-weight="bold" word-spacing="32.0" textLength="919.5" lengthAdjust="spacing" stroke="#000" stroke-width="2.5" >20-35 ДЛЯ ТД 30с</text>
<line x1="2157.0" y1="1579.0" x2="2632.0" y2="1579.0" stroke-width="2.5"/>
<line x1="2093.0" y1="1659.0" x2="2616.0" y2="1659.0" stroke-width="2.5"/>
<line x1="2165.0" y1="1593.0" x2="2185.0" y2="1565.0" stroke-width="3"/>
<line x1="2223.0" y1="1593.0" x2="2243.0" y2="1565.0" stroke-width="3"/>
<line x1="2101.0" y1="1673.0" x2="2121.0" y2="1645.0" stroke-width="3"/>
<line x1="2223.0" y1="1673.0" x2="2243.0" y2="1645.0" stroke-width="3"/>
<line x1="2112.0" y1="1233.0" x2="2112.0" y2="1665.0" stroke-width="2.5"/>
<line x1="2175.0" y1="1230.0" x2="2175.0" y2="1590.0" stroke-width="2.5"/>
<line x1="2233.0" y1="1233.0" x2="2233.0" y2="1680.0" stroke-width="2.5"/>
<line x1="1347.0" y1="156.0" x2="1347.0" y2="258.0" stroke-width="5"/>
<line x1="1347.0" y1="179.0" x2="1466.0" y2="179.0" stroke-width="3"/>
<polygon points="1351.0,179.0 1387.0,172.0 1387.0,186.0" stroke-width="3" fill="#000" />
<text transform="translate(1415.0,175.0) scale(0.705,1)" x="0" y="0" font-size="55.1" font-family="Liberation Sans" font-weight="bold" word-spacing="24.8" textLength="34.0" lengthAdjust="spacing" stroke="#000" stroke-width="2.5" >1</text>
<text transform="translate(1415.0,239.0) scale(0.515,1)" x="0" y="0" font-size="75.4" font-family="Liberation Sans" font-weight="bold" word-spacing="33.9" textLength="46.6" lengthAdjust="spacing" stroke="#000" stroke-width="2.5" >2</text>
<line x1="1351.0" y1="1577.0" x2="1351.0" y2="1674.0" stroke-width="5"/>
<line x1="1351.0" y1="1648.0" x2="1485.0" y2="1648.0" stroke-width="3"/>
<polygon points="1355.0,1648.0 1391.0,1641.0 1391.0,1655.0" stroke-width="3" fill="#000" />
<text transform="translate(1425.0,1644.0) scale(0.526,1)" x="0" y="0" font-size="73.9" font-family="Liberation Sans" font-weight="bold" word-spacing="33.3" textLength="45.7" lengthAdjust="spacing" stroke="#000" stroke-width="2.5" >1</text>
<text transform="translate(1425.0,1704.0) scale(0.744,1)" x="0" y="0" font-size="52.2" font-family="Liberation Sans" font-weight="bold" word-spacing="23.5" textLength="32.2" lengthAdjust="spacing" stroke="#000" stroke-width="2.5" >2</text>
<line x1="1535.0" y1="1587.0" x2="1535.0" y2="1699.0" stroke-width="5"/>
<line x1="1535.0" y1="1615.0" x2="1640.0" y2="1615.0" stroke-width="3"/>
<polygon points="1539.0,1615.0 1575.0,1608.0 1575.0,1622.0" stroke-width="3" fill="#000" />
<text transform="translate(1590.0,1609.0) scale(0.620,1)" x="0" y="0" font-size="78.3" font-family="Liberation Sans" font-weight="bold" word-spacing="35.2" textLength="48.4" lengthAdjust="spacing" stroke="#000" stroke-width="2.5" >3</text>
<text transform="translate(1590.0,1679.0) scale(0.578,1)" x="0" y="0" font-size="84.1" font-family="Liberation Sans" font-weight="bold" word-spacing="37.8" textLength="51.9" lengthAdjust="spacing" stroke="#000" stroke-width="2.5" >4</text>
<line x1="1536.0" y1="3018.0" x2="1536.0" y2="3116.0" stroke-width="5"/>
<line x1="1536.0" y1="3094.0" x2="1697.0" y2="3094.0" stroke-width="3"/>
<polygon points="1540.0,3094.0 1576.0,3087.0 1576.0,3101.0" stroke-width="3" fill="#000" />
<text transform="translate(1623.0,3088.0) scale(0.744,1)" x="0" y="0" font-size="56.5" font-family="Liberation Sans" font-weight="bold" word-spacing="25.4" textLength="34.9" lengthAdjust="spacing" stroke="#000" stroke-width="2.5" >3</text>
<text transform="translate(1623.0,3148.0) scale(0.660,1)" x="0" y="0" font-size="63.8" font-family="Liberation Sans" font-weight="bold" word-spacing="28.7" textLength="39.4" lengthAdjust="spacing" stroke="#000" stroke-width="2.5" >4</text>
<text transform="translate(246.0,1660.0) scale(0.425,1)" x="0" y="0" font-size="69.6" font-family="Liberation Sans" font-weight="bold" word-spacing="31.3" textLength="1091.3" lengthAdjust="spacing" stroke="#000" stroke-width="2.5" >АНТИСЕПТИРОВАННАЯ</text>
<line x1="222.0" y1="1663.0" x2="715.0" y2="1663.0" stroke-width="4"/>
<polyline points="715.0,1663.0 839.0,2182.0" stroke-width="2.5" fill="none" />
<text transform="translate(236.0,1722.0) scale(0.396,1)" x="0" y="0" font-size="75.4" font-family="Liberation Sans" font-weight="bold" word-spacing="33.9" textLength="1184.4" lengthAdjust="spacing" stroke="#000" stroke-width="2.5" >ДЕРЕВЯННАЯ ПРОБКА</text>
<text transform="translate(203.0,2095.0) scale(0.394,1)" x="0" y="0" font-size="79.7" font-family="Liberation Sans" font-weight="bold" word-spacing="35.9" textLength="851.2" lengthAdjust="spacing" stroke="#000" stroke-width="2.5" >КОСТЫЛЬ ММЗ</text>
<line x1="198.0" y1="2103.0" x2="544.0" y2="2103.0" stroke-width="4"/>
<polyline points="544.0,2103.0 1000.0,2240.0" stroke-width="2.5" fill="none" />
<text transform="translate(227.0,2156.0) scale(0.456,1)" x="0" y="0" font-size="68.1" font-family="Liberation Sans" font-weight="bold" word-spacing="30.7" textLength="637.8" lengthAdjust="spacing" stroke="#000" stroke-width="2.5" >СМ. ЛИСТ 50</text>
<text transform="translate(303.0,2258.0) scale(0.495,1)" x="0" y="0" font-size="69.6" font-family="Liberation Sans" font-weight="bold" word-spacing="31.3" textLength="252.6" lengthAdjust="spacing" stroke="#000" stroke-width="2.5" >ТОЛЬ</text>
<line x1="218.0" y1="2268.0" x2="544.0" y2="2268.0" stroke-width="4"/>
<polyline points="544.0,2268.0 980.0,2420.0" stroke-width="2.5" fill="none" stroke-dasharray="26,7"/>
<text transform="translate(250.0,2402.0) scale(0.515,1)" x="0" y="0" font-size="72.5" font-family="Liberation Sans" font-weight="bold" word-spacing="8.7" textLength="567.3" lengthAdjust="spacing" stroke="#000" stroke-width="2.5" >ДЛЯ ТД 29р</text>
<line x1="216.0" y1="2410.0" x2="527.0" y2="2410.0" stroke-width="4"/>
<polyline points="527.0,2410.0 990.0,2470.0" stroke-width="2.5" fill="none" />
<text transform="translate(236.0,2559.0) scale(0.452,1)" x="0" y="0" font-size="72.5" font-family="Liberation Sans" font-weight="bold" word-spacing="32.6" textLength="593.3" lengthAdjust="spacing" stroke="#000" stroke-width="2.5" >КОНОПАТКА</text>
<line x1="222.0" y1="2570.0" x2="536.0" y2="2570.0" stroke-width="4"/>
<polyline points="536.0,2570.0 975.0,2640.0" stroke-width="2.5" fill="none" />
<text transform="translate(1188.0,2794.0) scale(0.549,1)" x="0" y="0" font-size="62.3" font-family="Liberation Sans" font-weight="bold" word-spacing="28.0" textLength="436.9" lengthAdjust="spacing" stroke="#000" stroke-width="2.5" >ГЕРМЕТИК</text>
<line x1="1174.0" y1="2799.0" x2="1509.0" y2="2799.0" stroke-width="4"/>
<polyline points="1174.0,2799.0 1100.0,2700.0" stroke-width="2.5" fill="none" />
<text transform="translate(1126.0,3096.0) scale(0.537,1)" x="0" y="0" font-size="62.3" font-family="Liberation Sans" font-weight="bold" word-spacing="28.0" textLength="232.9" lengthAdjust="spacing" stroke="#000" stroke-width="2.5" >СЛИВ</text>
<line x1="1093.0" y1="3100.0" x2="1289.0" y2="3100.0" stroke-width="4"/>
<polyline points="1289.0,3100.0 1384.0,2904.0" stroke-width="2.5" fill="none" />
<text transform="translate(1670.0,1628.0) scale(0.470,1)" x="0" y="0" font-size="66.7" font-family="Liberation Sans" font-weight="bold" word-spacing="30.0" textLength="635.7" lengthAdjust="spacing" stroke="#000" stroke-width="2.5" >ПОДОКОННАЯ</text>
<line x1="1652.0" y1="1640.0" x2="2020.0" y2="1640.0" stroke-width="4"/>
<polyline points="2020.0,1640.0 2144.0,1861.0" stroke-width="2.5" fill="none" />
<text transform="translate(1662.0,1694.0) scale(0.395,1)" x="0" y="0" font-size="63.8" font-family="Liberation Sans" font-weight="bold" word-spacing="28.7" textLength="885.1" lengthAdjust="spacing" stroke="#000" stroke-width="2.5" >ДОСКА ИЛИ ПЛИТА</text>
<text transform="translate(2607.0,2253.0) scale(0.316,1)" x="0" y="0" font-size="89.9" font-family="Liberation Sans" font-weight="bold" word-spacing="10.8" textLength="703.4" lengthAdjust="spacing" stroke="#000" stroke-width="2.5" >ДЛЯ ТД 29р</text>
<line x1="2600.0" y1="2257.0" x2="2829.0" y2="2257.0" stroke-width="4"/>
<polyline points="2600.0,2257.0 2200.0,2420.0" stroke-width="2.5" fill="none" />
<text transform="translate(1976.0,2115.0) scale(0.463,1)" x="0" y="0" font-size="68.1" font-family="Liberation Sans" font-weight="bold" word-spacing="30.7" textLength="148.9" lengthAdjust="spacing" stroke="#000" stroke-width="2.5" >≥15</text>
<line x1="2030.0" y1="2124.0" x2="2120.0" y2="2124.0" stroke-width="2.5"/>
<line x1="2044.0" y1="2098.0" x2="2044.0" y2="2190.0" stroke-width="2.5"/>
<line x1="2105.0" y1="2085.0" x2="2105.0" y2="2226.0" stroke-width="2.5"/>
<line x1="2034.0" y1="2138.0" x2="2054.0" y2="2110.0" stroke-width="3"/>
<line x1="2095.0" y1="2138.0" x2="2115.0" y2="2110.0" stroke-width="3"/>
<text transform="translate(2243.0,3042.0) scale(0.337,1)" x="0" y="0" font-size="88.4" font-family="Liberation Sans" font-weight="bold" word-spacing="39.8" textLength="1151.0" lengthAdjust="spacing" stroke="#000" stroke-width="2.5" >20-35 ДЛЯ ТД 29р</text>
<text transform="translate(2243.0,3128.0) scale(0.367,1)" x="0" y="0" font-size="81.2" font-family="Liberation Sans" font-weight="bold" word-spacing="36.5" textLength="1056.7" lengthAdjust="spacing" stroke="#000" stroke-width="2.5" >20-35 ДЛЯ ТД 30р</text>
<line x1="2146.0" y1="3056.0" x2="2603.0" y2="3056.0" stroke-width="2.5"/>
<line x1="2098.0" y1="3132.0" x2="2614.0" y2="3132.0" stroke-width="2.5"/>
<line x1="2154.0" y1="3070.0" x2="2174.0" y2="3042.0" stroke-width="3"/>
<line x1="2218.0" y1="3070.0" x2="2238.0" y2="3042.0" stroke-width="3"/>
<line x1="2103.0" y1="3146.0" x2="2123.0" y2="3118.0" stroke-width="3"/>
<line x1="2218.0" y1="3146.0" x2="2238.0" y2="3118.0" stroke-width="3"/>
<line x1="2113.0" y1="2684.0" x2="2113.0" y2="3145.0" stroke-width="2.5"/>
<line x1="2164.0" y1="2977.0" x2="2164.0" y2="3084.0" stroke-width="2.5"/>
<line x1="2226.0" y1="2684.0" x2="2226.0" y2="3150.0" stroke-width="2.5"/>
<text transform="translate(260.0,3116.0) scale(0.533,1)" x="0" y="0" font-size="84.1" font-family="Liberation Sans" font-weight="normal" word-spacing="37.8" textLength="816.1" lengthAdjust="spacing" stroke="#000" stroke-width="2.5" >ПРИМЕЧАНИЯ:</text>
<line x1="229.0" y1="3137.0" x2="710.0" y2="3137.0" stroke-width="5"/>
<text transform="translate(257.0,3240.0) scale(0.456,1)" x="0" y="0" font-size="72.5" font-family="Liberation Sans" font-weight="bold" word-spacing="32.6" textLength="3436.7" lengthAdjust="spacing" stroke="#000" stroke-width="2.5" >1. ОКОННЫЕ БЛОКИ ДО УСТАНОВКИ В ПРОЁМ ОКЛЕИТЬ ТОЛЕМ.</text>
<text transform="translate(258.0,3316.0) scale(0.402,1)" x="0" y="0" font-size="76.8" font-family="Liberation Sans" font-weight="bold" word-spacing="34.6" textLength="6108.7" lengthAdjust="spacing" stroke="#000" stroke-width="2.5" >2. ЗАЗОРЫ МЕЖДУ КЛАДКОЙ И ОКОННЫМ БЛОКОМ ТЩАТЕЛЬНО ПРОКОНОПАТИТЬ ВОЙЛОКОМ ИЛИ ПАКЛЕЙ,</text>
<text transform="translate(317.0,3383.0) scale(0.434,1)" x="0" y="0" font-size="69.6" font-family="Liberation Sans" font-weight="bold" word-spacing="31.3" textLength="2171.2" lengthAdjust="spacing" stroke="#000" stroke-width="2.5" >СМОЧЕННЫМИ В АЛЕБАСТРОВОМ МОЛОКЕ.</text>
<text transform="translate(262.0,3457.0) scale(0.430,1)" x="0" y="0" font-size="72.5" font-family="Liberation Sans" font-weight="bold" word-spacing="32.6" textLength="5107.5" lengthAdjust="spacing" stroke="#000" stroke-width="2.5" >3. ДЕРЕВЯННЫЕ ПРОБКИ ЗАКЛАДЫВАТЬ ПО 2 ШТ. ПО ВЫСОТЕ С КАЖДОЙ СТОРОНЫ ПРОЕМА.</text>
<text transform="translate(267.0,3532.0) scale(0.421,1)" x="0" y="0" font-size="73.9" font-family="Liberation Sans" font-weight="bold" word-spacing="33.3" textLength="5887.9" lengthAdjust="spacing" stroke="#000" stroke-width="2.5" >4. ДЛЯ ТД 29С И ТД 29Р ПРИ ЗАЗОРЕ МЕЖДУ КИРПИЧНОЙ КЛАДКОЙ И ОКОННЫМ БЛОКОМ БОЛЕЕ 35 ММ.</text>
<text transform="translate(325.0,3610.0) scale(0.456,1)" x="0" y="0" font-size="69.6" font-family="Liberation Sans" font-weight="bold" word-spacing="31.3" textLength="5382.7" lengthAdjust="spacing" stroke="#000" stroke-width="2.5" >К ОБЕИМ СТОРОНАМ КОРОБКИ ПРИБИТЬ АНТИСЕПТИРОВАННЫЕ ДОСКИ. ТОЛЩИНА АНТИСЕПТИРОВАННОЙ</text>
<text transform="translate(318.0,3677.0) scale(0.482,1)" x="0" y="0" font-size="63.8" font-family="Liberation Sans" font-weight="bold" word-spacing="28.7" textLength="1921.6" lengthAdjust="spacing" stroke="#000" stroke-width="2.5" >ДОСКИ НЕ ДОЛЖНА ПРЕВЫШАТЬ 35 ММ.</text>
<text transform="translate(285.0,3745.0) scale(0.397,1)" x="0" y="0" font-size="79.7" font-family="Liberation Sans" font-weight="bold" word-spacing="35.9" textLength="6039.3" lengthAdjust="spacing" stroke="#000" stroke-width="2.5" >5. РАЗРЕЗЫ 1-1 И 3-3 ДЛЯ ОКОННОГО БЛОКА С ДЕРЕВЯННОЙ ПОДОКОННОЙ ДОСКОЙ, РАЗРЕЗЫ 2-2 И</text>
<text transform="translate(336.0,3818.0) scale(0.424,1)" x="0" y="0" font-size="79.7" font-family="Liberation Sans" font-weight="bold" word-spacing="35.9" textLength="3399.6" lengthAdjust="spacing" stroke="#000" stroke-width="2.5" >4-4 ДЛЯ ОКОННОГО БЛОКА С ЖЕЛЕЗОБЕТОННОЙ ПЛИТОЙ.</text>
<text transform="translate(291.0,3887.0) scale(0.500,1)" x="0" y="0" font-size="76.8" font-family="Liberation Sans" font-weight="bold" word-spacing="34.6" textLength="2283.9" lengthAdjust="spacing" stroke="#000" stroke-width="2.5" >6. РАЗРЕЗЫ 1-1 ÷ 4-4 СМ. ЛИСТЫ 34-37.</text>
<path d="M 222 4003 L 224 3994 L 290 3994 L 290 4006 M 257 3994 L 256 4099" stroke-width="5" fill="none" />
<path d="M 333 3988 L 317 4099 M 333 3988 L 357 4099 M 302 4101 L 377 4100 M 303 4101 L 306 4114 M 376 4100 L 368 4112" stroke-width="6" fill="none" />
<text transform="translate(210.0,4245.0) scale(0.436,1)" x="0" y="0" font-size="133.3" font-family="Liberation Sans" font-weight="normal" word-spacing="60.0" textLength="481.6" lengthAdjust="spacing" stroke="#000" stroke-width="2" >1971г.</text>
<text transform="translate(1127.0,4106.0) scale(0.514,1)" x="0" y="0" font-size="78.3" font-family="Liberation Sans" font-weight="normal" word-spacing="35.2" textLength="1650.2" lengthAdjust="spacing" stroke="#000" stroke-width="4" >ДЕТАЛИ   30с, 29с, 30р, 29р.</text>
<text transform="translate(2472.0,4016.0) scale(0.604,1)" x="0" y="0" font-size="66.7" font-family="Liberation Sans" font-weight="bold" word-spacing="30.0" textLength="306.5" lengthAdjust="spacing" stroke="#000" stroke-width="2.5" >СЕРИЯ</text>
<text transform="translate(2453.0,4118.0) scale(0.513,1)" x="0" y="0" font-size="113.0" font-family="Liberation Sans" font-weight="normal" word-spacing="50.9" textLength="504.4" lengthAdjust="spacing" stroke="#000" stroke-width="2.5" >2.236-2</text>
<text transform="translate(2384.0,4193.0) scale(0.490,1)" x="0" y="0" font-size="66.7" font-family="Liberation Sans" font-weight="bold" word-spacing="30.0" textLength="383.7" lengthAdjust="spacing" stroke="#000" stroke-width="2.5" >ВЫПУСК</text>
<text transform="translate(2472.0,4245.0) scale(0.415,1)" x="0" y="0" font-size="72.5" font-family="Liberation Sans" font-weight="bold" word-spacing="32.6" textLength="53.0" lengthAdjust="spacing" stroke="#000" stroke-width="2.5" >1</text>
<text transform="translate(2658.0,4191.0) scale(0.522,1)" x="0" y="0" font-size="66.7" font-family="Liberation Sans" font-weight="bold" word-spacing="30.0" textLength="239.4" lengthAdjust="spacing" stroke="#000" stroke-width="2.5" >ЛИСТ</text>
<text transform="translate(2691.0,4246.0) scale(0.510,1)" x="0" y="0" font-size="71.0" font-family="Liberation Sans" font-weight="bold" word-spacing="32.0" textLength="103.9" lengthAdjust="spacing" stroke="#000" stroke-width="2.5" >33</text>
<text transform="translate(2524.0,4327.0) scale(0.751,1)" x="0" y="0" font-size="58.0" font-family="Liberation Sans" font-weight="normal" word-spacing="26.1" textLength="206.4" lengthAdjust="spacing" stroke="#000" stroke-width="1" font-style="italic">11830</text>
<text transform="translate(2855.0,4342.0) scale(0.551,1)" x="0" y="0" font-size="85.5" font-family="Liberation Sans" font-weight="normal" word-spacing="38.5" textLength="125.1" lengthAdjust="spacing" stroke="#000" stroke-width="1" font-style="italic">44</text>
</g></svg></body></html>
